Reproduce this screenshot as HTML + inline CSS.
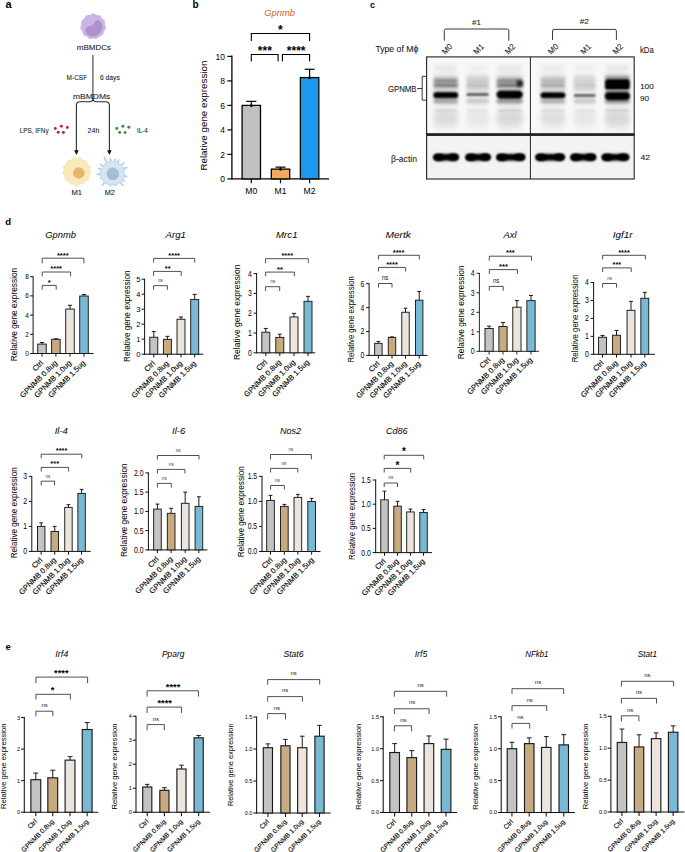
<!DOCTYPE html>
<html><head><meta charset="utf-8"><title>Figure</title>
<style>
html,body{margin:0;padding:0;background:#fff;}
body{width:685px;height:852px;overflow:hidden;}
svg{display:block;}
text{font-family:"Liberation Sans", sans-serif;}
</style></head>
<body>
<svg width="685" height="852" viewBox="0 0 685 852">
<rect x="0" y="0" width="685" height="852" fill="#fff"/>
<text x="5.60" y="8.40" font-size="11" text-anchor="start" font-weight="bold" >a</text>
<text x="192.40" y="7.70" font-size="10" text-anchor="start" font-weight="bold" >b</text>
<text x="370.00" y="8.30" font-size="9" text-anchor="start" font-weight="bold" >c</text>
<text x="5.30" y="224.70" font-size="9.5" text-anchor="start" font-weight="bold" >d</text>
<text x="5.60" y="650.00" font-size="9.5" text-anchor="start" font-weight="bold" >e</text>
<path d="M105.20,26.40 L105.43,27.05 L105.54,27.71 L105.49,28.36 L105.26,28.99 L104.90,29.56 L104.48,30.10 L104.07,30.61 L103.75,31.14 L103.52,31.71 L103.38,32.34 L103.27,33.00 L103.10,33.67 L102.83,34.28 L102.42,34.79 L101.88,35.18 L101.26,35.46 L100.61,35.68 L100.00,35.89 L99.45,36.17 L98.96,36.54 L98.50,37.00 L98.04,37.50 L97.54,37.96 L96.97,38.31 L96.34,38.51 L95.68,38.53 L95.00,38.42 L94.35,38.25 L93.71,38.11 L93.10,38.05 L92.49,38.11 L91.85,38.25 L91.20,38.42 L90.52,38.53 L89.86,38.51 L89.23,38.31 L88.66,37.96 L88.16,37.50 L87.70,37.00 L87.24,36.54 L86.75,36.17 L86.20,35.89 L85.59,35.68 L84.94,35.46 L84.32,35.18 L83.78,34.79 L83.37,34.28 L83.10,33.67 L82.93,33.00 L82.82,32.34 L82.68,31.71 L82.45,31.14 L82.13,30.61 L81.72,30.10 L81.30,29.56 L80.94,28.99 L80.71,28.36 L80.66,27.71 L80.77,27.05 L81.00,26.40 L81.26,25.78 L81.48,25.18 L81.59,24.58 L81.59,23.95 L81.52,23.30 L81.46,22.62 L81.48,21.94 L81.64,21.30 L81.96,20.72 L82.43,20.24 L82.97,19.82 L83.52,19.44 L84.02,19.05 L84.44,18.60 L84.77,18.07 L85.07,17.48 L85.38,16.87 L85.77,16.32 L86.27,15.88 L86.86,15.58 L87.51,15.44 L88.20,15.39 L88.87,15.37 L89.49,15.30 L90.08,15.13 L90.65,14.86 L91.22,14.52 L91.82,14.18 L92.45,13.94 L93.10,13.85 L93.75,13.94 L94.38,14.18 L94.98,14.52 L95.55,14.86 L96.12,15.13 L96.71,15.30 L97.33,15.37 L98.00,15.39 L98.69,15.44 L99.34,15.58 L99.93,15.88 L100.43,16.32 L100.82,16.87 L101.13,17.48 L101.43,18.07 L101.76,18.60 L102.18,19.05 L102.68,19.44 L103.23,19.82 L103.77,20.24 L104.24,20.72 L104.56,21.30 L104.72,21.94 L104.74,22.62 L104.68,23.30 L104.61,23.95 L104.61,24.58 L104.72,25.18 L104.94,25.78Z" fill="#cab6e6" stroke="#bea6dc" stroke-width="0.6"/>
<path d="M97.7,20.2 C100.5,20.6 102.4,23.0 102.4,26.6 C102.4,31.5 99.2,35.4 94.3,36.3 C90.0,37.0 86.3,35.0 85.3,31.6 C84.6,28.8 86.5,26.4 89.6,26.0 C91.9,25.8 93.4,25.2 93.7,23.3 C94.0,21.4 95.6,20.0 97.7,20.2 Z" fill="#ae92c9"/>
<text x="76.80" y="49.80" font-size="7.3" text-anchor="start" fill="#1a1a1a" textLength="34.10" lengthAdjust="spacingAndGlyphs" stroke="#1a1a1a" stroke-width="0.08" >mBMDCs</text>
<path d="M92.9,98.6 Q92.9,101.8 89.5,101.8 L80.0,101.8 Q76.4,101.8 76.4,105.6 L76.4,151" fill="none" stroke="#2a2a2a" stroke-width="1.1"/>
<path d="M92.9,54.9 L92.9,99.6" fill="none" stroke="#4a4a4a" stroke-width="1.2"/>
<path d="M92.9,98.6 Q92.9,101.8 96.3,101.8 L105.8,101.8 Q109.4,101.8 109.4,105.6 L109.4,151" fill="none" stroke="#2a2a2a" stroke-width="1.1"/>
<path d="M74.1,150.2 L78.7,150.2 L76.4,155.0 Z" fill="#111"/>
<path d="M107.1,150.2 L111.7,150.2 L109.4,155.0 Z" fill="#111"/>
<text x="66.60" y="80.40" font-size="6.6" text-anchor="start" fill="#1a1a1a" textLength="20.50" lengthAdjust="spacingAndGlyphs" stroke="#1a1a1a" stroke-width="0.08" >M-CSF</text>
<text x="99.90" y="80.40" font-size="6.6" text-anchor="start" fill="#1a1a1a" textLength="19.90" lengthAdjust="spacingAndGlyphs" stroke="#1a1a1a" stroke-width="0.08" >6 days</text>
<text x="73.00" y="99.10" font-size="7.5" text-anchor="start" fill="#1a1a1a" textLength="37.30" lengthAdjust="spacingAndGlyphs" stroke="#1a1a1a" stroke-width="0.08" >mBMDMs</text>
<text x="19.80" y="133.00" font-size="7.0" text-anchor="start" fill="#1a1a1a" textLength="28.80" lengthAdjust="spacingAndGlyphs" stroke="#1a1a1a" stroke-width="0.08" >LPS, IFNγ</text>
<text x="87.60" y="133.20" font-size="7.0" text-anchor="start" fill="#1a1a1a" textLength="11.70" lengthAdjust="spacingAndGlyphs" stroke="#1a1a1a" stroke-width="0.08" >24h</text>
<text x="136.90" y="133.20" font-size="7.0" text-anchor="start" fill="#1a1a1a" textLength="10.80" lengthAdjust="spacingAndGlyphs" stroke="#1a1a1a" stroke-width="0.08" >IL-4</text>
<circle cx="55.3" cy="128.5" r="1.45" fill="#b02a2e"/>
<circle cx="61.4" cy="126.3" r="1.45" fill="#b02a2e"/>
<circle cx="67.3" cy="127.5" r="1.45" fill="#b02a2e"/>
<circle cx="58.2" cy="132.2" r="1.45" fill="#b02a2e"/>
<circle cx="63.4" cy="132.5" r="1.45" fill="#b02a2e"/>
<circle cx="116.8" cy="128.5" r="1.45" fill="#2f8a3f"/>
<circle cx="122.9" cy="126.2" r="1.45" fill="#2f8a3f"/>
<circle cx="128.8" cy="127.3" r="1.45" fill="#2f8a3f"/>
<circle cx="119.7" cy="132.4" r="1.45" fill="#2f8a3f"/>
<circle cx="125.0" cy="132.6" r="1.45" fill="#2f8a3f"/>
<path d="M90.10,171.50 L90.46,172.22 L90.61,172.95 L90.46,173.66 L90.05,174.32 L89.50,174.90 L88.99,175.46 L88.66,176.05 L88.54,176.73 L88.57,177.50 L88.58,178.30 L88.42,179.05 L88.02,179.65 L87.39,180.08 L86.64,180.36 L85.90,180.60 L85.30,180.94 L84.85,181.44 L84.51,182.11 L84.16,182.83 L83.71,183.47 L83.11,183.88 L82.37,184.02 L81.58,183.95 L80.80,183.81 L80.09,183.79 L79.45,183.97 L78.84,184.37 L78.20,184.85 L77.52,185.25 L76.80,185.40 L76.08,185.25 L75.40,184.85 L74.76,184.37 L74.15,183.97 L73.51,183.79 L72.80,183.81 L72.02,183.95 L71.23,184.02 L70.49,183.88 L69.89,183.47 L69.44,182.83 L69.09,182.11 L68.75,181.44 L68.30,180.94 L67.70,180.60 L66.96,180.36 L66.21,180.08 L65.58,179.65 L65.18,179.05 L65.02,178.30 L65.03,177.50 L65.06,176.73 L64.94,176.05 L64.61,175.46 L64.10,174.90 L63.55,174.32 L63.14,173.66 L62.99,172.95 L63.14,172.22 L63.50,171.50 L63.90,170.82 L64.16,170.17 L64.19,169.50 L64.03,168.79 L63.80,168.02 L63.69,167.24 L63.82,166.52 L64.24,165.91 L64.87,165.42 L65.54,165.00 L66.12,164.56 L66.50,164.02 L66.72,163.34 L66.87,162.56 L67.10,161.80 L67.50,161.17 L68.11,160.77 L68.87,160.59 L69.67,160.53 L70.41,160.43 L71.03,160.18 L71.55,159.72 L72.04,159.11 L72.58,158.52 L73.21,158.09 L73.92,157.95 L74.68,158.09 L75.42,158.40 L76.13,158.68 L76.80,158.80 L77.47,158.68 L78.18,158.40 L78.92,158.09 L79.68,157.95 L80.39,158.09 L81.02,158.52 L81.56,159.11 L82.05,159.72 L82.57,160.18 L83.19,160.43 L83.93,160.53 L84.73,160.59 L85.49,160.77 L86.10,161.17 L86.50,161.80 L86.73,162.56 L86.88,163.34 L87.10,164.02 L87.48,164.56 L88.06,165.00 L88.73,165.42 L89.36,165.91 L89.78,166.52 L89.91,167.24 L89.80,168.02 L89.57,168.79 L89.41,169.50 L89.44,170.17 L89.70,170.82Z" fill="#fbe9b8" stroke="#e9d39a" stroke-width="0.6"/>
<circle cx="78.9" cy="173.0" r="5.8" fill="#e5b572"/>
<path d="M100.95,170.35 L97.93,168.22 L101.62,168.40 A11.8,11.8 0 0 1 102.29,167.12 L99.86,164.09 L103.49,165.46 A11.8,11.8 0 0 1 106.15,163.19 L103.82,156.36 L107.98,162.26 A11.8,11.8 0 0 1 109.75,161.70 L110.23,157.75 L111.78,161.42 A11.8,11.8 0 0 1 113.84,161.49 L115.52,158.53 L115.85,161.92 A11.8,11.8 0 0 1 116.63,162.18 L119.19,159.27 L118.48,163.09 A11.8,11.8 0 0 1 120.45,164.57 L124.44,162.36 L121.82,166.10 A11.8,11.8 0 0 1 123.01,168.03 L127.43,167.43 L123.74,169.95 A11.8,11.8 0 0 1 124.09,174.84 L127.41,176.66 L123.62,176.85 A11.8,11.8 0 0 1 122.82,178.74 L124.98,181.37 L121.70,180.46 A11.8,11.8 0 0 1 120.89,181.40 L123.49,185.95 L119.34,182.75 A11.8,11.8 0 0 1 116.44,184.29 L115.92,186.34 L114.45,184.82 A11.8,11.8 0 0 1 111.37,184.96 L110.04,186.59 L109.35,184.60 A11.8,11.8 0 0 1 105.63,182.87 L101.99,185.61 L104.06,181.54 A11.8,11.8 0 0 1 101.98,178.74 L99.88,178.51 L101.18,176.85 A11.8,11.8 0 0 1 100.78,175.25 L96.46,174.59 L100.60,173.20 A11.8,11.8 0 0 1 100.95,170.35 Z" fill="#d6e6f1" stroke="#a9c8dd" stroke-width="0.8" stroke-linejoin="round"/>
<circle cx="112.8" cy="173.9" r="6.0" fill="#a1bfd7" stroke="#93b3cd" stroke-width="0.5"/>
<text x="76.80" y="195.30" font-size="6.9" text-anchor="middle" fill="#1a1a1a" textLength="10.50" lengthAdjust="spacingAndGlyphs" stroke="#1a1a1a" stroke-width="0.08" >M1</text>
<text x="109.80" y="195.30" font-size="6.9" text-anchor="middle" fill="#1a1a1a" textLength="10.20" lengthAdjust="spacingAndGlyphs" stroke="#1a1a1a" stroke-width="0.08" >M2</text>
<text x="279.60" y="15.60" font-size="9.9" text-anchor="middle" font-style="italic" fill="#c8682c" textLength="30.90" lengthAdjust="spacingAndGlyphs" >Gpnmb</text>
<line x1="231.90" y1="55.50" x2="231.90" y2="179.60" stroke="#000" stroke-width="1.3" />
<line x1="231.90" y1="178.90" x2="329.00" y2="178.90" stroke="#000" stroke-width="1.3" />
<line x1="227.40" y1="178.90" x2="231.90" y2="178.90" stroke="#000" stroke-width="1.2" />
<text x="225.00" y="182.20" font-size="9.2" text-anchor="end" textLength="4.71" lengthAdjust="spacingAndGlyphs" >0</text>
<line x1="227.40" y1="154.40" x2="231.90" y2="154.40" stroke="#000" stroke-width="1.2" />
<text x="225.00" y="157.70" font-size="9.2" text-anchor="end" textLength="4.71" lengthAdjust="spacingAndGlyphs" >2</text>
<line x1="227.40" y1="129.90" x2="231.90" y2="129.90" stroke="#000" stroke-width="1.2" />
<text x="225.00" y="133.20" font-size="9.2" text-anchor="end" textLength="4.71" lengthAdjust="spacingAndGlyphs" >4</text>
<line x1="227.40" y1="105.40" x2="231.90" y2="105.40" stroke="#000" stroke-width="1.2" />
<text x="225.00" y="108.70" font-size="9.2" text-anchor="end" textLength="4.71" lengthAdjust="spacingAndGlyphs" >6</text>
<line x1="227.40" y1="80.90" x2="231.90" y2="80.90" stroke="#000" stroke-width="1.2" />
<text x="225.00" y="84.20" font-size="9.2" text-anchor="end" textLength="4.71" lengthAdjust="spacingAndGlyphs" >8</text>
<line x1="227.40" y1="56.40" x2="231.90" y2="56.40" stroke="#000" stroke-width="1.2" />
<text x="225.00" y="59.70" font-size="9.2" text-anchor="end" textLength="9.41" lengthAdjust="spacingAndGlyphs" >10</text>
<rect x="242.10" y="105.40" width="18.4" height="73.50" fill="#c0c0c0" stroke="#000" stroke-width="1.3"/>
<line x1="251.30" y1="101.36" x2="251.30" y2="105.40" stroke="#000" stroke-width="1.2" />
<line x1="246.30" y1="101.36" x2="256.30" y2="101.36" stroke="#000" stroke-width="1.2" />
<line x1="251.30" y1="178.90" x2="251.30" y2="183.20" stroke="#000" stroke-width="1.2" />
<circle cx="251.30" cy="105.70" r="1.3" fill="#000"/>
<rect x="271.30" y="169.10" width="18.4" height="9.80" fill="#f5a95d" stroke="#000" stroke-width="1.3"/>
<line x1="280.50" y1="167.14" x2="280.50" y2="169.10" stroke="#000" stroke-width="1.2" />
<line x1="275.50" y1="167.14" x2="285.50" y2="167.14" stroke="#000" stroke-width="1.2" />
<line x1="280.50" y1="178.90" x2="280.50" y2="183.20" stroke="#000" stroke-width="1.2" />
<circle cx="280.50" cy="169.40" r="1.3" fill="#000"/>
<rect x="300.40" y="77.59" width="18.4" height="101.31" fill="#1a9bf0" stroke="#000" stroke-width="1.3"/>
<line x1="309.60" y1="69.26" x2="309.60" y2="77.59" stroke="#000" stroke-width="1.2" />
<line x1="304.60" y1="69.26" x2="314.60" y2="69.26" stroke="#000" stroke-width="1.2" />
<line x1="309.60" y1="178.90" x2="309.60" y2="183.20" stroke="#000" stroke-width="1.2" />
<circle cx="309.60" cy="77.89" r="1.3" fill="#000"/>
<text x="251.30" y="194.40" font-size="8.6" text-anchor="middle" >M0</text>
<text x="280.50" y="194.40" font-size="8.6" text-anchor="middle" >M1</text>
<text x="309.60" y="194.40" font-size="8.6" text-anchor="middle" >M2</text>
<text x="207.00" y="115.60" font-size="9.8" text-anchor="middle" transform="rotate(-90 207.0 115.6)">Relative gene expression</text>
<path d="M251.30,40.90 L251.30,33.50 L309.60,33.50 L309.60,40.90" fill="none" stroke="#000" stroke-width="1.1"/>
<path d="M251.30,61.60 L251.30,54.50 L278.10,54.50 L278.10,61.60" fill="none" stroke="#000" stroke-width="1.1"/>
<path d="M282.40,61.60 L282.40,54.50 L309.60,54.50 L309.60,61.60" fill="none" stroke="#000" stroke-width="1.1"/>
<text x="280.40" y="33.60" font-size="12" text-anchor="middle" font-weight="bold" >*</text>
<text x="264.85" y="54.50" font-size="12" text-anchor="middle" font-weight="bold" >***</text>
<text x="296.20" y="54.50" font-size="12" text-anchor="middle" font-weight="bold" >****</text>
<defs><filter id="b1" x="-20%" y="-100%" width="140%" height="300%"><feGaussianBlur stdDeviation="0.85"/></filter><filter id="b2" x="-20%" y="-100%" width="140%" height="300%"><feGaussianBlur stdDeviation="1.6"/></filter><filter id="b3" x="-20%" y="-100%" width="140%" height="300%"><feGaussianBlur stdDeviation="2.6"/></filter></defs>
<text x="476.40" y="24.60" font-size="7.8" text-anchor="middle" fill="#1a1a1a" textLength="8.80" lengthAdjust="spacingAndGlyphs" stroke="#1a1a1a" stroke-width="0.08" >#1</text>
<text x="584.20" y="24.40" font-size="7.8" text-anchor="middle" fill="#1a1a1a" textLength="9.00" lengthAdjust="spacingAndGlyphs" stroke="#1a1a1a" stroke-width="0.08" >#2</text>
<path d="M444.3,40.7 L444.3,30.5 Q444.3,29 445.8,29 L507.3,29 Q508.8,29 508.8,30.5 L508.8,40.7" fill="none" stroke="#222" stroke-width="0.9"/>
<path d="M552.5,39.9 L552.5,30.9 Q552.5,29.4 554,29.4 L614.9,29.4 Q616.4,29.4 616.4,30.9 L616.4,39.9" fill="none" stroke="#222" stroke-width="0.9"/>
<text x="375.40" y="51.60" font-size="8.7" text-anchor="start" fill="#1a1a1a" textLength="42.90" lengthAdjust="spacingAndGlyphs" stroke="#1a1a1a" stroke-width="0.08" >Type of Mϕ</text>
<text x="445.20" y="54.90" font-size="8.3" text-anchor="start" fill="#1a1a1a" textLength="11.00" lengthAdjust="spacingAndGlyphs" stroke="#1a1a1a" stroke-width="0.08" transform="rotate(-45 445.2 54.9)">M0</text>
<text x="476.80" y="54.90" font-size="8.3" text-anchor="start" fill="#1a1a1a" textLength="11.00" lengthAdjust="spacingAndGlyphs" stroke="#1a1a1a" stroke-width="0.08" transform="rotate(-45 476.8 54.9)">M1</text>
<text x="508.20" y="54.90" font-size="8.3" text-anchor="start" fill="#1a1a1a" textLength="11.00" lengthAdjust="spacingAndGlyphs" stroke="#1a1a1a" stroke-width="0.08" transform="rotate(-45 508.2 54.9)">M2</text>
<text x="551.30" y="54.90" font-size="8.3" text-anchor="start" fill="#1a1a1a" textLength="11.00" lengthAdjust="spacingAndGlyphs" stroke="#1a1a1a" stroke-width="0.08" transform="rotate(-45 551.3 54.9)">M0</text>
<text x="583.80" y="54.90" font-size="8.3" text-anchor="start" fill="#1a1a1a" textLength="11.00" lengthAdjust="spacingAndGlyphs" stroke="#1a1a1a" stroke-width="0.08" transform="rotate(-45 583.8 54.9)">M1</text>
<text x="615.90" y="54.90" font-size="8.3" text-anchor="start" fill="#1a1a1a" textLength="11.00" lengthAdjust="spacingAndGlyphs" stroke="#1a1a1a" stroke-width="0.08" transform="rotate(-45 615.9 54.9)">M2</text>
<text x="639.90" y="53.30" font-size="8.2" text-anchor="start" fill="#1a1a1a" textLength="13.90" lengthAdjust="spacingAndGlyphs" stroke="#1a1a1a" stroke-width="0.08" >kDa</text>
<text x="639.90" y="89.10" font-size="7.8" text-anchor="start" fill="#1a1a1a" textLength="13.90" lengthAdjust="spacingAndGlyphs" stroke="#1a1a1a" stroke-width="0.08" >100</text>
<text x="639.90" y="100.60" font-size="7.8" text-anchor="start" fill="#1a1a1a" textLength="9.20" lengthAdjust="spacingAndGlyphs" stroke="#1a1a1a" stroke-width="0.08" >90</text>
<text x="640.40" y="159.90" font-size="7.8" text-anchor="start" fill="#1a1a1a" textLength="9.60" lengthAdjust="spacingAndGlyphs" stroke="#1a1a1a" stroke-width="0.08" >42</text>
<text x="387.90" y="91.80" font-size="8.2" text-anchor="start" fill="#1a1a1a" textLength="28.60" lengthAdjust="spacingAndGlyphs" stroke="#1a1a1a" stroke-width="0.08" >GPNMB</text>
<text x="391.00" y="161.80" font-size="8.2" text-anchor="start" fill="#1a1a1a" textLength="26.00" lengthAdjust="spacingAndGlyphs" stroke="#1a1a1a" stroke-width="0.08" >β-actin</text>
<path d="M426.4,76.3 L422.2,76.3 L422.2,100.2 L426.4,100.2 M417.2,88.5 L422.2,88.5" fill="none" stroke="#222" stroke-width="0.9"/>
<rect x="426.6" y="56.9" width="207.3" height="77" fill="#f8f8f8"/>
<rect x="426.6" y="135.6" width="207.3" height="43" fill="#f3f3f3"/>
<rect x="434.50" y="64" width="22.50" height="66" fill="#eaeaea" opacity="0.8" filter="url(#b3)"/>
<rect x="435.00" y="66.70" width="21.50" height="1.60" rx="0.80" fill="#dfdfdf" opacity="0.6" filter="url(#b1)"/>
<rect x="433.50" y="98.50" width="24.50" height="5.00" rx="2.50" fill="#9a9a9a" opacity="0.9" filter="url(#b2)"/>
<rect x="434.50" y="109.70" width="22.50" height="2.20" rx="1.10" fill="#c5c5c5" opacity="0.8" filter="url(#b1)"/>
<rect x="433.50" y="111.00" width="24.50" height="14.00" rx="7.00" fill="#dbdbdb" opacity="0.9" filter="url(#b3)"/>
<rect x="467.30" y="64" width="20.70" height="66" fill="#f0f0f0" opacity="0.8" filter="url(#b3)"/>
<rect x="467.80" y="66.70" width="19.70" height="1.60" rx="0.80" fill="#e8e8e8" opacity="0.6" filter="url(#b1)"/>
<rect x="466.30" y="98.50" width="22.70" height="5.00" rx="2.50" fill="#c5c5c5" opacity="0.9" filter="url(#b2)"/>
<rect x="467.30" y="109.70" width="20.70" height="2.20" rx="1.10" fill="#d9d9d9" opacity="0.8" filter="url(#b1)"/>
<rect x="466.30" y="111.00" width="22.70" height="14.00" rx="7.00" fill="#e6e6e6" opacity="0.9" filter="url(#b3)"/>
<rect x="497.60" y="64" width="24.10" height="66" fill="#e8e8e8" opacity="0.8" filter="url(#b3)"/>
<rect x="498.10" y="66.70" width="23.10" height="1.60" rx="0.80" fill="#dcdcdc" opacity="0.6" filter="url(#b1)"/>
<rect x="496.60" y="98.50" width="26.10" height="5.00" rx="2.50" fill="#8c8c8c" opacity="0.9" filter="url(#b2)"/>
<rect x="497.60" y="109.70" width="24.10" height="2.20" rx="1.10" fill="#bebebe" opacity="0.8" filter="url(#b1)"/>
<rect x="496.60" y="111.00" width="26.10" height="14.00" rx="7.00" fill="#d7d7d7" opacity="0.9" filter="url(#b3)"/>
<rect x="541.60" y="64" width="22.70" height="66" fill="#ececec" opacity="0.8" filter="url(#b3)"/>
<rect x="542.10" y="66.70" width="21.70" height="1.60" rx="0.80" fill="#e2e2e2" opacity="0.6" filter="url(#b1)"/>
<rect x="540.60" y="98.50" width="24.70" height="5.00" rx="2.50" fill="#a8a8a8" opacity="0.9" filter="url(#b2)"/>
<rect x="541.60" y="109.70" width="22.70" height="2.20" rx="1.10" fill="#cccccc" opacity="0.8" filter="url(#b1)"/>
<rect x="540.60" y="111.00" width="24.70" height="14.00" rx="7.00" fill="#dedede" opacity="0.9" filter="url(#b3)"/>
<rect x="574.70" y="64" width="20.00" height="66" fill="#f0f0f0" opacity="0.8" filter="url(#b3)"/>
<rect x="575.20" y="66.70" width="19.00" height="1.60" rx="0.80" fill="#e8e8e8" opacity="0.6" filter="url(#b1)"/>
<rect x="573.70" y="98.50" width="22.00" height="5.00" rx="2.50" fill="#c5c5c5" opacity="0.9" filter="url(#b2)"/>
<rect x="574.70" y="109.70" width="20.00" height="2.20" rx="1.10" fill="#d9d9d9" opacity="0.8" filter="url(#b1)"/>
<rect x="573.70" y="111.00" width="22.00" height="14.00" rx="7.00" fill="#e6e6e6" opacity="0.9" filter="url(#b3)"/>
<rect x="605.90" y="64" width="23.00" height="66" fill="#e8e8e8" opacity="0.8" filter="url(#b3)"/>
<rect x="606.40" y="66.70" width="22.00" height="1.60" rx="0.80" fill="#dcdcdc" opacity="0.6" filter="url(#b1)"/>
<rect x="604.90" y="98.50" width="25.00" height="5.00" rx="2.50" fill="#8c8c8c" opacity="0.9" filter="url(#b2)"/>
<rect x="605.90" y="109.70" width="23.00" height="2.20" rx="1.10" fill="#bebebe" opacity="0.8" filter="url(#b1)"/>
<rect x="604.90" y="111.00" width="25.00" height="14.00" rx="7.00" fill="#d7d7d7" opacity="0.9" filter="url(#b3)"/>
<rect x="433.50" y="75.50" width="24.50" height="4.00" rx="2.00" fill="#d8d8d8" opacity="1.0" filter="url(#b2)"/>
<rect x="433.50" y="78.50" width="24.50" height="5.00" rx="2.50" fill="#8c8c8c" opacity="1.0" filter="url(#b2)"/>
<rect x="433.50" y="83.00" width="24.50" height="5.00" rx="2.50" fill="#7e7e7e" opacity="1.0" filter="url(#b2)"/>
<rect x="433.50" y="88.00" width="24.50" height="3.00" rx="1.50" fill="#c8c8c8" opacity="0.8" filter="url(#b2)"/>
<rect x="466.30" y="75.50" width="22.70" height="4.00" rx="2.00" fill="#d8d8d8" opacity="1.0" filter="url(#b2)"/>
<rect x="466.30" y="78.50" width="22.70" height="5.00" rx="2.50" fill="#c8c8c8" opacity="1.0" filter="url(#b2)"/>
<rect x="466.30" y="83.00" width="22.70" height="5.00" rx="2.50" fill="#bdbdbd" opacity="1.0" filter="url(#b2)"/>
<rect x="466.30" y="88.00" width="22.70" height="3.00" rx="1.50" fill="#c8c8c8" opacity="0.8" filter="url(#b2)"/>
<rect x="496.60" y="75.50" width="26.10" height="4.00" rx="2.00" fill="#d8d8d8" opacity="1.0" filter="url(#b2)"/>
<rect x="496.60" y="78.50" width="26.10" height="5.00" rx="2.50" fill="#8a8a8a" opacity="1.0" filter="url(#b2)"/>
<rect x="496.60" y="83.00" width="26.10" height="5.00" rx="2.50" fill="#767676" opacity="1.0" filter="url(#b2)"/>
<rect x="496.60" y="88.00" width="26.10" height="3.00" rx="1.50" fill="#c8c8c8" opacity="0.8" filter="url(#b2)"/>
<rect x="540.60" y="75.50" width="24.70" height="4.00" rx="2.00" fill="#d8d8d8" opacity="1.0" filter="url(#b2)"/>
<rect x="540.60" y="78.50" width="24.70" height="5.00" rx="2.50" fill="#b4b4b4" opacity="1.0" filter="url(#b2)"/>
<rect x="540.60" y="83.00" width="24.70" height="5.00" rx="2.50" fill="#a8a8a8" opacity="1.0" filter="url(#b2)"/>
<rect x="540.60" y="88.00" width="24.70" height="3.00" rx="1.50" fill="#c8c8c8" opacity="0.8" filter="url(#b2)"/>
<rect x="573.70" y="75.50" width="22.00" height="4.00" rx="2.00" fill="#d8d8d8" opacity="1.0" filter="url(#b2)"/>
<rect x="573.70" y="78.50" width="22.00" height="5.00" rx="2.50" fill="#d2d2d2" opacity="1.0" filter="url(#b2)"/>
<rect x="573.70" y="83.00" width="22.00" height="5.00" rx="2.50" fill="#c6c6c6" opacity="1.0" filter="url(#b2)"/>
<rect x="573.70" y="88.00" width="22.00" height="3.00" rx="1.50" fill="#c8c8c8" opacity="0.8" filter="url(#b2)"/>
<rect x="516.50" y="80.25" width="6.50" height="6.50" rx="3.25" fill="#1a1a1a" opacity="1.0" filter="url(#b2)"/>
<rect x="604.90" y="75.50" width="25.00" height="4.00" rx="2.00" fill="#9a9a9a" opacity="1.0" filter="url(#b2)"/>
<rect x="604.90" y="79.10" width="25.00" height="11.00" rx="3.00" fill="#000" opacity="1.0" filter="url(#b1)"/>
<rect x="605.50" y="90.00" width="24.00" height="2.00" rx="1.00" fill="#8a8a8a" opacity="1.0" filter="url(#b1)"/>
<rect x="433.30" y="92.05" width="24.90" height="6.30" rx="3.15" fill="#000" opacity="1.0" filter="url(#b1)"/>
<rect x="466.30" y="92.90" width="22.70" height="3.20" rx="1.60" fill="#5a5a5a" opacity="1.0" filter="url(#b1)"/>
<rect x="496.40" y="90.45" width="26.50" height="8.30" rx="4.15" fill="#000" opacity="1.0" filter="url(#b1)"/>
<rect x="540.40" y="92.25" width="25.10" height="6.10" rx="3.05" fill="#000" opacity="1.0" filter="url(#b1)"/>
<rect x="573.70" y="93.90" width="22.00" height="3.00" rx="1.50" fill="#5e5e5e" opacity="1.0" filter="url(#b1)"/>
<rect x="604.70" y="92.00" width="25.40" height="8.20" rx="4.10" fill="#000" opacity="1.0" filter="url(#b1)"/>
<rect x="433.50" y="152.70" width="25.10" height="9.00" rx="4.50" fill="#bdbdbd" opacity="0.5" filter="url(#b2)"/>
<rect x="433.50" y="154.00" width="25.10" height="6.40" rx="3.20" fill="#000" opacity="1.0" filter="url(#b1)"/>
<ellipse cx="439.00" cy="157.3" rx="5.5" ry="3.65" fill="#000" filter="url(#b1)"/>
<ellipse cx="453.10" cy="157.1" rx="5.5" ry="3.6" fill="#000" filter="url(#b1)"/>
<rect x="465.60" y="152.70" width="24.90" height="9.00" rx="4.50" fill="#bdbdbd" opacity="0.5" filter="url(#b2)"/>
<rect x="465.60" y="154.00" width="24.90" height="6.40" rx="3.20" fill="#000" opacity="1.0" filter="url(#b1)"/>
<ellipse cx="471.10" cy="157.3" rx="5.5" ry="3.65" fill="#000" filter="url(#b1)"/>
<ellipse cx="485.00" cy="157.1" rx="5.5" ry="3.6" fill="#000" filter="url(#b1)"/>
<rect x="496.60" y="152.70" width="28.40" height="9.00" rx="4.50" fill="#bdbdbd" opacity="0.5" filter="url(#b2)"/>
<rect x="496.60" y="154.00" width="28.40" height="6.40" rx="3.20" fill="#000" opacity="1.0" filter="url(#b1)"/>
<ellipse cx="502.10" cy="157.3" rx="5.5" ry="3.65" fill="#000" filter="url(#b1)"/>
<ellipse cx="519.50" cy="157.1" rx="5.5" ry="3.6" fill="#000" filter="url(#b1)"/>
<rect x="535.70" y="152.70" width="28.90" height="9.00" rx="4.50" fill="#bdbdbd" opacity="0.5" filter="url(#b2)"/>
<rect x="535.70" y="154.00" width="28.90" height="6.40" rx="3.20" fill="#000" opacity="1.0" filter="url(#b1)"/>
<ellipse cx="541.20" cy="157.3" rx="5.5" ry="3.65" fill="#000" filter="url(#b1)"/>
<ellipse cx="559.10" cy="157.1" rx="5.5" ry="3.6" fill="#000" filter="url(#b1)"/>
<rect x="570.60" y="152.70" width="25.30" height="9.00" rx="4.50" fill="#bdbdbd" opacity="0.5" filter="url(#b2)"/>
<rect x="570.60" y="154.00" width="25.30" height="6.40" rx="3.20" fill="#000" opacity="1.0" filter="url(#b1)"/>
<ellipse cx="576.10" cy="157.3" rx="5.5" ry="3.65" fill="#000" filter="url(#b1)"/>
<ellipse cx="590.40" cy="157.1" rx="5.5" ry="3.6" fill="#000" filter="url(#b1)"/>
<rect x="601.90" y="152.70" width="27.00" height="9.00" rx="4.50" fill="#bdbdbd" opacity="0.5" filter="url(#b2)"/>
<rect x="601.90" y="154.00" width="27.00" height="6.40" rx="3.20" fill="#000" opacity="1.0" filter="url(#b1)"/>
<ellipse cx="607.40" cy="157.3" rx="5.5" ry="3.65" fill="#000" filter="url(#b1)"/>
<ellipse cx="623.40" cy="157.1" rx="5.5" ry="3.6" fill="#000" filter="url(#b1)"/>
<rect x="426.6" y="56.9" width="207.6" height="77.0" fill="none" stroke="#222" stroke-width="1.1"/>
<rect x="426.6" y="135.3" width="207.6" height="43.7" fill="none" stroke="#222" stroke-width="1.1"/>
<rect x="426.1" y="133.4" width="208.6" height="2.4" fill="#262626"/>
<line x1="530.40" y1="56.90" x2="530.40" y2="179.00" stroke="#222" stroke-width="1.0" />
<text x="60.60" y="237.70" font-size="9.9" text-anchor="middle" font-style="italic" textLength="30.60" lengthAdjust="spacingAndGlyphs" >Gpnmb</text>
<text x="17.00" y="314.50" font-size="8.3" text-anchor="middle" textLength="93.50" lengthAdjust="spacingAndGlyphs" transform="rotate(-90 17.00 314.50)">Relative gene expression</text>
<line x1="33.10" y1="276.20" x2="33.10" y2="354.00" stroke="#111" stroke-width="1.0" />
<line x1="32.60" y1="353.50" x2="93.40" y2="353.50" stroke="#111" stroke-width="1.0" />
<line x1="30.10" y1="353.50" x2="33.10" y2="353.50" stroke="#111" stroke-width="1.0" />
<text x="28.90" y="356.02" font-size="7.0" text-anchor="end" textLength="3.58" lengthAdjust="spacingAndGlyphs" >0</text>
<line x1="30.10" y1="334.30" x2="33.10" y2="334.30" stroke="#111" stroke-width="1.0" />
<text x="28.90" y="336.82" font-size="7.0" text-anchor="end" textLength="3.58" lengthAdjust="spacingAndGlyphs" >2</text>
<line x1="30.10" y1="315.10" x2="33.10" y2="315.10" stroke="#111" stroke-width="1.0" />
<text x="28.90" y="317.62" font-size="7.0" text-anchor="end" textLength="3.58" lengthAdjust="spacingAndGlyphs" >4</text>
<line x1="30.10" y1="295.90" x2="33.10" y2="295.90" stroke="#111" stroke-width="1.0" />
<text x="28.90" y="298.42" font-size="7.0" text-anchor="end" textLength="3.58" lengthAdjust="spacingAndGlyphs" >6</text>
<line x1="30.10" y1="276.70" x2="33.10" y2="276.70" stroke="#111" stroke-width="1.0" />
<text x="28.90" y="279.22" font-size="7.0" text-anchor="end" textLength="3.58" lengthAdjust="spacingAndGlyphs" >8</text>
<rect x="37.73" y="344.09" width="8.55" height="9.41" fill="#c3c3c3" stroke="#1a1a1a" stroke-width="0.95"/>
<line x1="42.00" y1="342.56" x2="42.00" y2="344.09" stroke="#1a1a1a" stroke-width="1.0" />
<line x1="39.86" y1="342.56" x2="44.14" y2="342.56" stroke="#1a1a1a" stroke-width="1.0" />
<line x1="42.00" y1="353.50" x2="42.00" y2="356.70" stroke="#111" stroke-width="1.0" />
<text x="43.80" y="363.50" font-size="7.6" text-anchor="end" stroke="#000" stroke-width="0.12" transform="rotate(-45 43.80 363.50)">Ctrl</text>
<rect x="51.62" y="339.29" width="8.55" height="14.21" fill="#c7aa7f" stroke="#1a1a1a" stroke-width="0.95"/>
<line x1="55.90" y1="338.81" x2="55.90" y2="339.29" stroke="#1a1a1a" stroke-width="1.0" />
<line x1="53.76" y1="338.81" x2="58.04" y2="338.81" stroke="#1a1a1a" stroke-width="1.0" />
<line x1="55.90" y1="353.50" x2="55.90" y2="356.70" stroke="#111" stroke-width="1.0" />
<text x="57.70" y="363.50" font-size="7.6" text-anchor="end" stroke="#000" stroke-width="0.12" transform="rotate(-45 57.70 363.50)">GPNMB 0.8ug</text>
<rect x="65.72" y="309.05" width="8.55" height="44.45" fill="#ebe5dd" stroke="#1a1a1a" stroke-width="0.95"/>
<line x1="70.00" y1="305.31" x2="70.00" y2="309.05" stroke="#1a1a1a" stroke-width="1.0" />
<line x1="67.86" y1="305.31" x2="72.14" y2="305.31" stroke="#1a1a1a" stroke-width="1.0" />
<line x1="70.00" y1="353.50" x2="70.00" y2="356.70" stroke="#111" stroke-width="1.0" />
<text x="71.80" y="363.50" font-size="7.6" text-anchor="end" stroke="#000" stroke-width="0.12" transform="rotate(-45 71.80 363.50)">GPNMB 1.0ug</text>
<rect x="79.72" y="296.00" width="8.55" height="57.50" fill="#79b9d3" stroke="#1a1a1a" stroke-width="0.95"/>
<line x1="84.00" y1="294.46" x2="84.00" y2="296.00" stroke="#1a1a1a" stroke-width="1.0" />
<line x1="81.86" y1="294.46" x2="86.14" y2="294.46" stroke="#1a1a1a" stroke-width="1.0" />
<line x1="84.00" y1="353.50" x2="84.00" y2="356.70" stroke="#111" stroke-width="1.0" />
<text x="85.80" y="363.50" font-size="7.6" text-anchor="end" stroke="#000" stroke-width="0.12" transform="rotate(-45 85.80 363.50)">GPNMB 1.5ug</text>
<path d="M42.20,263.30 L42.20,258.20 L83.90,258.20 L83.90,263.30" fill="none" stroke="#3c3c3c" stroke-width="0.9"/>
<text x="62.80" y="257.88" font-size="7.5" text-anchor="middle" font-weight="bold" >****</text>
<path d="M42.20,276.40 L42.20,272.00 L70.60,272.00 L70.60,276.40" fill="none" stroke="#3c3c3c" stroke-width="0.9"/>
<text x="56.20" y="271.48" font-size="7.5" text-anchor="middle" font-weight="bold" >****</text>
<path d="M42.20,289.70 L42.20,285.40 L56.20,285.40 L56.20,289.70" fill="none" stroke="#3c3c3c" stroke-width="0.9"/>
<text x="49.30" y="284.57" font-size="7.5" text-anchor="middle" font-weight="bold" >*</text>
<text x="175.70" y="238.20" font-size="9.9" text-anchor="middle" font-style="italic" textLength="20.40" lengthAdjust="spacingAndGlyphs" >Arg1</text>
<text x="130.00" y="316.20" font-size="8.3" text-anchor="middle" textLength="91.60" lengthAdjust="spacingAndGlyphs" transform="rotate(-90 130.00 316.20)">Relative gene expression</text>
<line x1="144.60" y1="278.70" x2="144.60" y2="354.70" stroke="#111" stroke-width="1.0" />
<line x1="144.10" y1="354.20" x2="203.40" y2="354.20" stroke="#111" stroke-width="1.0" />
<line x1="141.60" y1="354.20" x2="144.60" y2="354.20" stroke="#111" stroke-width="1.0" />
<text x="140.40" y="357.08" font-size="8.0" text-anchor="end" textLength="4.23" lengthAdjust="spacingAndGlyphs" >0</text>
<line x1="141.60" y1="339.20" x2="144.60" y2="339.20" stroke="#111" stroke-width="1.0" />
<text x="140.40" y="342.08" font-size="8.0" text-anchor="end" textLength="4.23" lengthAdjust="spacingAndGlyphs" >1</text>
<line x1="141.60" y1="324.20" x2="144.60" y2="324.20" stroke="#111" stroke-width="1.0" />
<text x="140.40" y="327.08" font-size="8.0" text-anchor="end" textLength="4.23" lengthAdjust="spacingAndGlyphs" >2</text>
<line x1="141.60" y1="309.20" x2="144.60" y2="309.20" stroke="#111" stroke-width="1.0" />
<text x="140.40" y="312.08" font-size="8.0" text-anchor="end" textLength="4.23" lengthAdjust="spacingAndGlyphs" >3</text>
<line x1="141.60" y1="294.20" x2="144.60" y2="294.20" stroke="#111" stroke-width="1.0" />
<text x="140.40" y="297.08" font-size="8.0" text-anchor="end" textLength="4.23" lengthAdjust="spacingAndGlyphs" >4</text>
<line x1="141.60" y1="279.20" x2="144.60" y2="279.20" stroke="#111" stroke-width="1.0" />
<text x="140.40" y="282.08" font-size="8.0" text-anchor="end" textLength="4.23" lengthAdjust="spacingAndGlyphs" >5</text>
<rect x="149.80" y="337.25" width="8.00" height="16.95" fill="#c3c3c3" stroke="#1a1a1a" stroke-width="0.95"/>
<line x1="153.80" y1="331.55" x2="153.80" y2="337.25" stroke="#1a1a1a" stroke-width="1.0" />
<line x1="151.80" y1="331.55" x2="155.80" y2="331.55" stroke="#1a1a1a" stroke-width="1.0" />
<line x1="153.80" y1="354.20" x2="153.80" y2="357.40" stroke="#111" stroke-width="1.0" />
<text x="155.60" y="363.90" font-size="7.6" text-anchor="end" stroke="#000" stroke-width="0.12" transform="rotate(-45 155.60 363.90)">Ctrl</text>
<rect x="163.40" y="339.35" width="8.00" height="14.85" fill="#c7aa7f" stroke="#1a1a1a" stroke-width="0.95"/>
<line x1="167.40" y1="336.35" x2="167.40" y2="339.35" stroke="#1a1a1a" stroke-width="1.0" />
<line x1="165.40" y1="336.35" x2="169.40" y2="336.35" stroke="#1a1a1a" stroke-width="1.0" />
<line x1="167.40" y1="354.20" x2="167.40" y2="357.40" stroke="#111" stroke-width="1.0" />
<text x="169.20" y="363.90" font-size="7.6" text-anchor="end" stroke="#000" stroke-width="0.12" transform="rotate(-45 169.20 363.90)">GPNMB 0.8ug</text>
<rect x="177.00" y="319.25" width="8.00" height="34.95" fill="#ebe5dd" stroke="#1a1a1a" stroke-width="0.95"/>
<line x1="181.00" y1="317.00" x2="181.00" y2="319.25" stroke="#1a1a1a" stroke-width="1.0" />
<line x1="179.00" y1="317.00" x2="183.00" y2="317.00" stroke="#1a1a1a" stroke-width="1.0" />
<line x1="181.00" y1="354.20" x2="181.00" y2="357.40" stroke="#111" stroke-width="1.0" />
<text x="182.80" y="363.90" font-size="7.6" text-anchor="end" stroke="#000" stroke-width="0.12" transform="rotate(-45 182.80 363.90)">GPNMB 1.0ug</text>
<rect x="190.70" y="299.45" width="8.00" height="54.75" fill="#79b9d3" stroke="#1a1a1a" stroke-width="0.95"/>
<line x1="194.70" y1="294.35" x2="194.70" y2="299.45" stroke="#1a1a1a" stroke-width="1.0" />
<line x1="192.70" y1="294.35" x2="196.70" y2="294.35" stroke="#1a1a1a" stroke-width="1.0" />
<line x1="194.70" y1="354.20" x2="194.70" y2="357.40" stroke="#111" stroke-width="1.0" />
<text x="196.50" y="363.90" font-size="7.6" text-anchor="end" stroke="#000" stroke-width="0.12" transform="rotate(-45 196.50 363.90)">GPNMB 1.5ug</text>
<path d="M153.60,262.60 L153.60,258.40 L194.70,258.40 L194.70,262.60" fill="none" stroke="#3c3c3c" stroke-width="0.9"/>
<text x="174.20" y="257.68" font-size="7.5" text-anchor="middle" font-weight="bold" >****</text>
<path d="M153.60,275.80 L153.60,271.40 L181.20,271.40 L181.20,275.80" fill="none" stroke="#3c3c3c" stroke-width="0.9"/>
<text x="167.70" y="270.77" font-size="7.5" text-anchor="middle" font-weight="bold" >**</text>
<path d="M153.60,289.80 L153.60,285.70 L167.40,285.70 L167.40,289.80" fill="none" stroke="#3c3c3c" stroke-width="0.9"/>
<text x="160.40" y="281.84" font-size="4.6" text-anchor="middle" fill="#3a3a3a" >ns</text>
<text x="286.80" y="238.20" font-size="9.9" text-anchor="middle" font-style="italic" textLength="21.50" lengthAdjust="spacingAndGlyphs" >Mrc1</text>
<text x="240.40" y="312.30" font-size="8.3" text-anchor="middle" textLength="95.50" lengthAdjust="spacingAndGlyphs" transform="rotate(-90 240.40 312.30)">Relative gene expression</text>
<line x1="256.60" y1="273.10" x2="256.60" y2="353.30" stroke="#111" stroke-width="1.0" />
<line x1="256.10" y1="352.80" x2="315.20" y2="352.80" stroke="#111" stroke-width="1.0" />
<line x1="253.60" y1="352.80" x2="256.60" y2="352.80" stroke="#111" stroke-width="1.0" />
<text x="251.80" y="355.75" font-size="8.2" text-anchor="end" textLength="3.83" lengthAdjust="spacingAndGlyphs" >0</text>
<line x1="253.60" y1="333.00" x2="256.60" y2="333.00" stroke="#111" stroke-width="1.0" />
<text x="251.80" y="335.95" font-size="8.2" text-anchor="end" textLength="3.83" lengthAdjust="spacingAndGlyphs" >1</text>
<line x1="253.60" y1="313.20" x2="256.60" y2="313.20" stroke="#111" stroke-width="1.0" />
<text x="251.80" y="316.15" font-size="8.2" text-anchor="end" textLength="3.83" lengthAdjust="spacingAndGlyphs" >2</text>
<line x1="253.60" y1="293.40" x2="256.60" y2="293.40" stroke="#111" stroke-width="1.0" />
<text x="251.80" y="296.35" font-size="8.2" text-anchor="end" textLength="3.83" lengthAdjust="spacingAndGlyphs" >3</text>
<line x1="253.60" y1="273.60" x2="256.60" y2="273.60" stroke="#111" stroke-width="1.0" />
<text x="251.80" y="276.55" font-size="8.2" text-anchor="end" textLength="3.83" lengthAdjust="spacingAndGlyphs" >4</text>
<rect x="261.80" y="332.21" width="8.00" height="20.59" fill="#c3c3c3" stroke="#1a1a1a" stroke-width="0.95"/>
<line x1="265.80" y1="328.45" x2="265.80" y2="332.21" stroke="#1a1a1a" stroke-width="1.0" />
<line x1="263.80" y1="328.45" x2="267.80" y2="328.45" stroke="#1a1a1a" stroke-width="1.0" />
<line x1="265.80" y1="352.80" x2="265.80" y2="356.00" stroke="#111" stroke-width="1.0" />
<text x="267.60" y="362.80" font-size="7.6" text-anchor="end" stroke="#000" stroke-width="0.12" transform="rotate(-45 267.60 362.80)">Ctrl</text>
<rect x="275.80" y="337.36" width="8.00" height="15.44" fill="#c7aa7f" stroke="#1a1a1a" stroke-width="0.95"/>
<line x1="279.80" y1="334.19" x2="279.80" y2="337.36" stroke="#1a1a1a" stroke-width="1.0" />
<line x1="277.80" y1="334.19" x2="281.80" y2="334.19" stroke="#1a1a1a" stroke-width="1.0" />
<line x1="279.80" y1="352.80" x2="279.80" y2="356.00" stroke="#111" stroke-width="1.0" />
<text x="281.60" y="362.80" font-size="7.6" text-anchor="end" stroke="#000" stroke-width="0.12" transform="rotate(-45 281.60 362.80)">GPNMB 0.8ug</text>
<rect x="290.00" y="316.96" width="8.00" height="35.84" fill="#ebe5dd" stroke="#1a1a1a" stroke-width="0.95"/>
<line x1="294.00" y1="313.40" x2="294.00" y2="316.96" stroke="#1a1a1a" stroke-width="1.0" />
<line x1="292.00" y1="313.40" x2="296.00" y2="313.40" stroke="#1a1a1a" stroke-width="1.0" />
<line x1="294.00" y1="352.80" x2="294.00" y2="356.00" stroke="#111" stroke-width="1.0" />
<text x="295.80" y="362.80" font-size="7.6" text-anchor="end" stroke="#000" stroke-width="0.12" transform="rotate(-45 295.80 362.80)">GPNMB 1.0ug</text>
<rect x="304.00" y="301.32" width="8.00" height="51.48" fill="#79b9d3" stroke="#1a1a1a" stroke-width="0.95"/>
<line x1="308.00" y1="296.37" x2="308.00" y2="301.32" stroke="#1a1a1a" stroke-width="1.0" />
<line x1="306.00" y1="296.37" x2="310.00" y2="296.37" stroke="#1a1a1a" stroke-width="1.0" />
<line x1="308.00" y1="352.80" x2="308.00" y2="356.00" stroke="#111" stroke-width="1.0" />
<text x="309.80" y="362.80" font-size="7.6" text-anchor="end" stroke="#000" stroke-width="0.12" transform="rotate(-45 309.80 362.80)">GPNMB 1.5ug</text>
<path d="M265.60,263.00 L265.60,258.70 L308.30,258.70 L308.30,263.00" fill="none" stroke="#3c3c3c" stroke-width="0.9"/>
<text x="287.30" y="257.88" font-size="7.5" text-anchor="middle" font-weight="bold" >****</text>
<path d="M265.60,276.40 L265.60,272.10 L294.40,272.10 L294.40,276.40" fill="none" stroke="#3c3c3c" stroke-width="0.9"/>
<text x="280.00" y="271.57" font-size="7.5" text-anchor="middle" font-weight="bold" >**</text>
<path d="M265.60,291.00 L265.60,286.70 L279.70,286.70 L279.70,291.00" fill="none" stroke="#3c3c3c" stroke-width="0.9"/>
<text x="273.00" y="283.24" font-size="4.6" text-anchor="middle" fill="#3a3a3a" >ns</text>
<text x="398.20" y="238.20" font-size="9.9" text-anchor="middle" font-style="italic" textLength="25.50" lengthAdjust="spacingAndGlyphs" >Mertk</text>
<text x="354.20" y="319.40" font-size="8.3" text-anchor="middle" textLength="86.40" lengthAdjust="spacingAndGlyphs" transform="rotate(-90 354.20 319.40)">Relative gene expression</text>
<line x1="369.10" y1="283.20" x2="369.10" y2="355.90" stroke="#111" stroke-width="1.0" />
<line x1="368.60" y1="355.40" x2="427.50" y2="355.40" stroke="#111" stroke-width="1.0" />
<line x1="366.10" y1="355.40" x2="369.10" y2="355.40" stroke="#111" stroke-width="1.0" />
<text x="364.30" y="358.35" font-size="8.2" text-anchor="end" textLength="3.83" lengthAdjust="spacingAndGlyphs" >0</text>
<line x1="366.10" y1="331.50" x2="369.10" y2="331.50" stroke="#111" stroke-width="1.0" />
<text x="364.30" y="334.45" font-size="8.2" text-anchor="end" textLength="3.83" lengthAdjust="spacingAndGlyphs" >2</text>
<line x1="366.10" y1="307.60" x2="369.10" y2="307.60" stroke="#111" stroke-width="1.0" />
<text x="364.30" y="310.55" font-size="8.2" text-anchor="end" textLength="3.83" lengthAdjust="spacingAndGlyphs" >4</text>
<line x1="366.10" y1="283.70" x2="369.10" y2="283.70" stroke="#111" stroke-width="1.0" />
<text x="364.30" y="286.65" font-size="8.2" text-anchor="end" textLength="3.83" lengthAdjust="spacingAndGlyphs" >6</text>
<rect x="374.67" y="343.33" width="7.45" height="12.07" fill="#c3c3c3" stroke="#1a1a1a" stroke-width="0.95"/>
<line x1="378.40" y1="341.42" x2="378.40" y2="343.33" stroke="#1a1a1a" stroke-width="1.0" />
<line x1="376.54" y1="341.42" x2="380.26" y2="341.42" stroke="#1a1a1a" stroke-width="1.0" />
<line x1="378.40" y1="355.40" x2="378.40" y2="358.60" stroke="#111" stroke-width="1.0" />
<text x="380.20" y="364.20" font-size="7.6" text-anchor="end" stroke="#000" stroke-width="0.12" transform="rotate(-45 380.20 364.20)">Ctrl</text>
<rect x="388.27" y="337.36" width="7.45" height="18.04" fill="#c7aa7f" stroke="#1a1a1a" stroke-width="0.95"/>
<line x1="392.00" y1="336.88" x2="392.00" y2="337.36" stroke="#1a1a1a" stroke-width="1.0" />
<line x1="390.14" y1="336.88" x2="393.86" y2="336.88" stroke="#1a1a1a" stroke-width="1.0" />
<line x1="392.00" y1="355.40" x2="392.00" y2="358.60" stroke="#111" stroke-width="1.0" />
<text x="393.80" y="364.20" font-size="7.6" text-anchor="end" stroke="#000" stroke-width="0.12" transform="rotate(-45 393.80 364.20)">GPNMB 0.8ug</text>
<rect x="401.77" y="312.26" width="7.45" height="43.14" fill="#ebe5dd" stroke="#1a1a1a" stroke-width="0.95"/>
<line x1="405.50" y1="308.20" x2="405.50" y2="312.26" stroke="#1a1a1a" stroke-width="1.0" />
<line x1="403.64" y1="308.20" x2="407.36" y2="308.20" stroke="#1a1a1a" stroke-width="1.0" />
<line x1="405.50" y1="355.40" x2="405.50" y2="358.60" stroke="#111" stroke-width="1.0" />
<text x="407.30" y="364.20" font-size="7.6" text-anchor="end" stroke="#000" stroke-width="0.12" transform="rotate(-45 407.30 364.20)">GPNMB 1.0ug</text>
<rect x="415.47" y="300.19" width="7.45" height="55.21" fill="#79b9d3" stroke="#1a1a1a" stroke-width="0.95"/>
<line x1="419.20" y1="291.47" x2="419.20" y2="300.19" stroke="#1a1a1a" stroke-width="1.0" />
<line x1="417.34" y1="291.47" x2="421.06" y2="291.47" stroke="#1a1a1a" stroke-width="1.0" />
<line x1="419.20" y1="355.40" x2="419.20" y2="358.60" stroke="#111" stroke-width="1.0" />
<text x="421.00" y="364.20" font-size="7.6" text-anchor="end" stroke="#000" stroke-width="0.12" transform="rotate(-45 421.00 364.20)">GPNMB 1.5ug</text>
<path d="M378.50,259.40 L378.50,255.30 L419.30,255.30 L419.30,259.40" fill="none" stroke="#3c3c3c" stroke-width="0.9"/>
<text x="398.60" y="254.78" font-size="7.5" text-anchor="middle" font-weight="bold" >****</text>
<path d="M378.50,271.50 L378.50,267.40 L405.60,267.40 L405.60,271.50" fill="none" stroke="#3c3c3c" stroke-width="0.9"/>
<text x="392.00" y="267.18" font-size="7.5" text-anchor="middle" font-weight="bold" >****</text>
<path d="M378.50,287.60 L378.50,283.50 L392.00,283.50 L392.00,287.60" fill="none" stroke="#3c3c3c" stroke-width="0.9"/>
<text x="385.20" y="279.70" font-size="7.4" text-anchor="middle" fill="#222" textLength="6.60" lengthAdjust="spacingAndGlyphs" >ns</text>
<text x="510.00" y="238.20" font-size="9.9" text-anchor="middle" font-style="italic" textLength="13.10" lengthAdjust="spacingAndGlyphs" >Axl</text>
<text x="464.40" y="312.30" font-size="8.3" text-anchor="middle" textLength="94.00" lengthAdjust="spacingAndGlyphs" transform="rotate(-90 464.40 312.30)">Relative gene expression</text>
<line x1="479.40" y1="272.80" x2="479.40" y2="351.80" stroke="#2a2a2a" stroke-width="1.0" />
<line x1="478.90" y1="351.30" x2="539.00" y2="351.30" stroke="#2a2a2a" stroke-width="1.0" />
<line x1="476.40" y1="351.30" x2="479.40" y2="351.30" stroke="#2a2a2a" stroke-width="1.0" />
<text x="474.60" y="354.25" font-size="8.2" text-anchor="end" textLength="3.83" lengthAdjust="spacingAndGlyphs" >0</text>
<line x1="476.40" y1="331.80" x2="479.40" y2="331.80" stroke="#2a2a2a" stroke-width="1.0" />
<text x="474.60" y="334.75" font-size="8.2" text-anchor="end" textLength="3.83" lengthAdjust="spacingAndGlyphs" >1</text>
<line x1="476.40" y1="312.30" x2="479.40" y2="312.30" stroke="#2a2a2a" stroke-width="1.0" />
<text x="474.60" y="315.25" font-size="8.2" text-anchor="end" textLength="3.83" lengthAdjust="spacingAndGlyphs" >2</text>
<line x1="476.40" y1="292.80" x2="479.40" y2="292.80" stroke="#2a2a2a" stroke-width="1.0" />
<text x="474.60" y="295.75" font-size="8.2" text-anchor="end" textLength="3.83" lengthAdjust="spacingAndGlyphs" >3</text>
<line x1="476.40" y1="273.30" x2="479.40" y2="273.30" stroke="#2a2a2a" stroke-width="1.0" />
<text x="474.60" y="276.25" font-size="8.2" text-anchor="end" textLength="3.83" lengthAdjust="spacingAndGlyphs" >4</text>
<rect x="484.98" y="328.49" width="8.25" height="22.81" fill="#c3c3c3" stroke="#1a1a1a" stroke-width="0.95"/>
<line x1="489.10" y1="326.14" x2="489.10" y2="328.49" stroke="#1a1a1a" stroke-width="1.0" />
<line x1="487.04" y1="326.14" x2="491.16" y2="326.14" stroke="#1a1a1a" stroke-width="1.0" />
<line x1="489.10" y1="351.30" x2="489.10" y2="354.50" stroke="#2a2a2a" stroke-width="1.0" />
<text x="490.90" y="360.40" font-size="7.6" text-anchor="end" stroke="#000" stroke-width="0.12" transform="rotate(-45 490.90 360.40)">Ctrl</text>
<rect x="498.88" y="326.54" width="8.25" height="24.76" fill="#c7aa7f" stroke="#1a1a1a" stroke-width="0.95"/>
<line x1="503.00" y1="322.44" x2="503.00" y2="326.54" stroke="#1a1a1a" stroke-width="1.0" />
<line x1="500.94" y1="322.44" x2="505.06" y2="322.44" stroke="#1a1a1a" stroke-width="1.0" />
<line x1="503.00" y1="351.30" x2="503.00" y2="354.50" stroke="#2a2a2a" stroke-width="1.0" />
<text x="504.80" y="360.40" font-size="7.6" text-anchor="end" stroke="#000" stroke-width="0.12" transform="rotate(-45 504.80 360.40)">GPNMB 0.8ug</text>
<rect x="512.77" y="307.23" width="8.25" height="44.07" fill="#ebe5dd" stroke="#1a1a1a" stroke-width="0.95"/>
<line x1="516.90" y1="300.60" x2="516.90" y2="307.23" stroke="#1a1a1a" stroke-width="1.0" />
<line x1="514.84" y1="300.60" x2="518.96" y2="300.60" stroke="#1a1a1a" stroke-width="1.0" />
<line x1="516.90" y1="351.30" x2="516.90" y2="354.50" stroke="#2a2a2a" stroke-width="1.0" />
<text x="518.70" y="360.40" font-size="7.6" text-anchor="end" stroke="#000" stroke-width="0.12" transform="rotate(-45 518.70 360.40)">GPNMB 1.0ug</text>
<rect x="526.88" y="300.60" width="8.25" height="50.70" fill="#79b9d3" stroke="#1a1a1a" stroke-width="0.95"/>
<line x1="531.00" y1="295.53" x2="531.00" y2="300.60" stroke="#1a1a1a" stroke-width="1.0" />
<line x1="528.94" y1="295.53" x2="533.06" y2="295.53" stroke="#1a1a1a" stroke-width="1.0" />
<line x1="531.00" y1="351.30" x2="531.00" y2="354.50" stroke="#2a2a2a" stroke-width="1.0" />
<text x="532.80" y="360.40" font-size="7.6" text-anchor="end" stroke="#000" stroke-width="0.12" transform="rotate(-45 532.80 360.40)">GPNMB 1.5ug</text>
<path d="M489.30,260.60 L489.30,256.20 L531.50,256.20 L531.50,260.60" fill="none" stroke="#3c3c3c" stroke-width="0.9"/>
<text x="510.40" y="255.47" font-size="7.5" text-anchor="middle" font-weight="bold" >***</text>
<path d="M489.30,274.00 L489.30,269.60 L517.40,269.60 L517.40,274.00" fill="none" stroke="#3c3c3c" stroke-width="0.9"/>
<text x="503.50" y="268.88" font-size="7.5" text-anchor="middle" font-weight="bold" >***</text>
<path d="M489.30,290.80 L489.30,286.40 L503.20,286.40 L503.20,290.80" fill="none" stroke="#3c3c3c" stroke-width="0.9"/>
<text x="496.20" y="282.60" font-size="7.4" text-anchor="middle" fill="#222" textLength="6.60" lengthAdjust="spacingAndGlyphs" >ns</text>
<text x="622.70" y="238.20" font-size="9.9" text-anchor="middle" font-style="italic" textLength="19.80" lengthAdjust="spacingAndGlyphs" >Igf1r</text>
<text x="577.50" y="318.50" font-size="8.3" text-anchor="middle" textLength="87.60" lengthAdjust="spacingAndGlyphs" transform="rotate(-90 577.50 318.50)">Relative gene expression</text>
<line x1="593.60" y1="282.00" x2="593.60" y2="354.80" stroke="#111" stroke-width="1.0" />
<line x1="593.10" y1="354.30" x2="654.90" y2="354.30" stroke="#111" stroke-width="1.0" />
<line x1="590.60" y1="354.30" x2="593.60" y2="354.30" stroke="#111" stroke-width="1.0" />
<text x="588.80" y="357.25" font-size="8.2" text-anchor="end" textLength="3.83" lengthAdjust="spacingAndGlyphs" >0</text>
<line x1="590.60" y1="336.35" x2="593.60" y2="336.35" stroke="#111" stroke-width="1.0" />
<text x="588.80" y="339.30" font-size="8.2" text-anchor="end" textLength="3.83" lengthAdjust="spacingAndGlyphs" >1</text>
<line x1="590.60" y1="318.40" x2="593.60" y2="318.40" stroke="#111" stroke-width="1.0" />
<text x="588.80" y="321.35" font-size="8.2" text-anchor="end" textLength="3.83" lengthAdjust="spacingAndGlyphs" >2</text>
<line x1="590.60" y1="300.45" x2="593.60" y2="300.45" stroke="#111" stroke-width="1.0" />
<text x="588.80" y="303.40" font-size="8.2" text-anchor="end" textLength="3.83" lengthAdjust="spacingAndGlyphs" >3</text>
<line x1="590.60" y1="282.50" x2="593.60" y2="282.50" stroke="#111" stroke-width="1.0" />
<text x="588.80" y="285.45" font-size="8.2" text-anchor="end" textLength="3.83" lengthAdjust="spacingAndGlyphs" >4</text>
<rect x="598.55" y="337.25" width="7.90" height="17.05" fill="#c3c3c3" stroke="#1a1a1a" stroke-width="0.95"/>
<line x1="602.50" y1="335.45" x2="602.50" y2="337.25" stroke="#1a1a1a" stroke-width="1.0" />
<line x1="600.52" y1="335.45" x2="604.48" y2="335.45" stroke="#1a1a1a" stroke-width="1.0" />
<line x1="602.50" y1="354.30" x2="602.50" y2="357.50" stroke="#111" stroke-width="1.0" />
<text x="604.30" y="363.40" font-size="7.6" text-anchor="end" stroke="#000" stroke-width="0.12" transform="rotate(-45 604.30 363.40)">Ctrl</text>
<rect x="612.55" y="335.27" width="7.90" height="19.03" fill="#c7aa7f" stroke="#1a1a1a" stroke-width="0.95"/>
<line x1="616.50" y1="330.43" x2="616.50" y2="335.27" stroke="#1a1a1a" stroke-width="1.0" />
<line x1="614.52" y1="330.43" x2="618.48" y2="330.43" stroke="#1a1a1a" stroke-width="1.0" />
<line x1="616.50" y1="354.30" x2="616.50" y2="357.50" stroke="#111" stroke-width="1.0" />
<text x="618.30" y="363.40" font-size="7.6" text-anchor="end" stroke="#000" stroke-width="0.12" transform="rotate(-45 618.30 363.40)">GPNMB 0.8ug</text>
<rect x="627.05" y="310.32" width="7.90" height="43.98" fill="#ebe5dd" stroke="#1a1a1a" stroke-width="0.95"/>
<line x1="631.00" y1="301.35" x2="631.00" y2="310.32" stroke="#1a1a1a" stroke-width="1.0" />
<line x1="629.02" y1="301.35" x2="632.98" y2="301.35" stroke="#1a1a1a" stroke-width="1.0" />
<line x1="631.00" y1="354.30" x2="631.00" y2="357.50" stroke="#111" stroke-width="1.0" />
<text x="632.80" y="363.40" font-size="7.6" text-anchor="end" stroke="#000" stroke-width="0.12" transform="rotate(-45 632.80 363.40)">GPNMB 1.0ug</text>
<rect x="640.85" y="298.30" width="7.90" height="56.00" fill="#79b9d3" stroke="#1a1a1a" stroke-width="0.95"/>
<line x1="644.80" y1="292.37" x2="644.80" y2="298.30" stroke="#1a1a1a" stroke-width="1.0" />
<line x1="642.82" y1="292.37" x2="646.77" y2="292.37" stroke="#1a1a1a" stroke-width="1.0" />
<line x1="644.80" y1="354.30" x2="644.80" y2="357.50" stroke="#111" stroke-width="1.0" />
<text x="646.60" y="363.40" font-size="7.6" text-anchor="end" stroke="#000" stroke-width="0.12" transform="rotate(-45 646.60 363.40)">GPNMB 1.5ug</text>
<path d="M602.60,259.40 L602.60,255.30 L645.40,255.30 L645.40,259.40" fill="none" stroke="#3c3c3c" stroke-width="0.9"/>
<text x="624.00" y="254.78" font-size="7.5" text-anchor="middle" font-weight="bold" >****</text>
<path d="M602.60,272.00 L602.60,267.90 L631.20,267.90 L631.20,272.00" fill="none" stroke="#3c3c3c" stroke-width="0.9"/>
<text x="616.90" y="267.18" font-size="7.5" text-anchor="middle" font-weight="bold" >***</text>
<path d="M602.60,287.60 L602.60,283.50 L616.50,283.50 L616.50,287.60" fill="none" stroke="#3c3c3c" stroke-width="0.9"/>
<text x="609.60" y="279.64" font-size="4.6" text-anchor="middle" fill="#3a3a3a" >ns</text>
<text x="61.30" y="433.80" font-size="9.9" text-anchor="middle" font-style="italic" textLength="13.20" lengthAdjust="spacingAndGlyphs" >Il-4</text>
<text x="16.90" y="512.80" font-size="8.3" text-anchor="middle" textLength="90.90" lengthAdjust="spacingAndGlyphs" transform="rotate(-90 16.90 512.80)">Relative gene expression</text>
<line x1="31.80" y1="475.90" x2="31.80" y2="551.90" stroke="#111" stroke-width="1.0" />
<line x1="31.30" y1="551.40" x2="90.80" y2="551.40" stroke="#111" stroke-width="1.0" />
<line x1="28.80" y1="551.40" x2="31.80" y2="551.40" stroke="#111" stroke-width="1.0" />
<text x="27.00" y="554.35" font-size="8.2" text-anchor="end" textLength="3.83" lengthAdjust="spacingAndGlyphs" >0</text>
<line x1="28.80" y1="526.40" x2="31.80" y2="526.40" stroke="#111" stroke-width="1.0" />
<text x="27.00" y="529.35" font-size="8.2" text-anchor="end" textLength="3.83" lengthAdjust="spacingAndGlyphs" >1</text>
<line x1="28.80" y1="501.40" x2="31.80" y2="501.40" stroke="#111" stroke-width="1.0" />
<text x="27.00" y="504.35" font-size="8.2" text-anchor="end" textLength="3.83" lengthAdjust="spacingAndGlyphs" >2</text>
<line x1="28.80" y1="476.40" x2="31.80" y2="476.40" stroke="#111" stroke-width="1.0" />
<text x="27.00" y="479.35" font-size="8.2" text-anchor="end" textLength="3.83" lengthAdjust="spacingAndGlyphs" >3</text>
<rect x="37.48" y="526.40" width="7.45" height="25.00" fill="#c3c3c3" stroke="#1a1a1a" stroke-width="0.95"/>
<line x1="41.20" y1="522.90" x2="41.20" y2="526.40" stroke="#1a1a1a" stroke-width="1.0" />
<line x1="39.34" y1="522.90" x2="43.06" y2="522.90" stroke="#1a1a1a" stroke-width="1.0" />
<line x1="41.20" y1="551.40" x2="41.20" y2="554.60" stroke="#111" stroke-width="1.0" />
<text x="43.00" y="560.50" font-size="7.6" text-anchor="end" stroke="#000" stroke-width="0.12" transform="rotate(-45 43.00 560.50)">Ctrl</text>
<rect x="51.02" y="531.40" width="7.45" height="20.00" fill="#c7aa7f" stroke="#1a1a1a" stroke-width="0.95"/>
<line x1="54.75" y1="526.40" x2="54.75" y2="531.40" stroke="#1a1a1a" stroke-width="1.0" />
<line x1="52.89" y1="526.40" x2="56.61" y2="526.40" stroke="#1a1a1a" stroke-width="1.0" />
<line x1="54.75" y1="551.40" x2="54.75" y2="554.60" stroke="#111" stroke-width="1.0" />
<text x="56.55" y="560.50" font-size="7.6" text-anchor="end" stroke="#000" stroke-width="0.12" transform="rotate(-45 56.55 560.50)">GPNMB 0.8ug</text>
<rect x="64.73" y="507.40" width="7.45" height="44.00" fill="#ebe5dd" stroke="#1a1a1a" stroke-width="0.95"/>
<line x1="68.45" y1="504.65" x2="68.45" y2="507.40" stroke="#1a1a1a" stroke-width="1.0" />
<line x1="66.59" y1="504.65" x2="70.31" y2="504.65" stroke="#1a1a1a" stroke-width="1.0" />
<line x1="68.45" y1="551.40" x2="68.45" y2="554.60" stroke="#111" stroke-width="1.0" />
<text x="70.25" y="560.50" font-size="7.6" text-anchor="end" stroke="#000" stroke-width="0.12" transform="rotate(-45 70.25 560.50)">GPNMB 1.0ug</text>
<rect x="77.88" y="493.40" width="7.45" height="58.00" fill="#79b9d3" stroke="#1a1a1a" stroke-width="0.95"/>
<line x1="81.60" y1="489.40" x2="81.60" y2="493.40" stroke="#1a1a1a" stroke-width="1.0" />
<line x1="79.74" y1="489.40" x2="83.46" y2="489.40" stroke="#1a1a1a" stroke-width="1.0" />
<line x1="81.60" y1="551.40" x2="81.60" y2="554.60" stroke="#111" stroke-width="1.0" />
<text x="83.40" y="560.50" font-size="7.6" text-anchor="end" stroke="#000" stroke-width="0.12" transform="rotate(-45 83.40 560.50)">GPNMB 1.5ug</text>
<path d="M41.20,458.30 L41.20,454.20 L81.80,454.20 L81.80,458.30" fill="none" stroke="#3c3c3c" stroke-width="0.9"/>
<text x="61.60" y="453.48" font-size="7.5" text-anchor="middle" font-weight="bold" >****</text>
<path d="M41.20,471.50 L41.20,467.40 L68.60,467.40 L68.60,471.50" fill="none" stroke="#3c3c3c" stroke-width="0.9"/>
<text x="54.70" y="466.38" font-size="7.5" text-anchor="middle" font-weight="bold" >***</text>
<path d="M41.20,485.30 L41.20,481.20 L54.50,481.20 L54.50,485.30" fill="none" stroke="#3c3c3c" stroke-width="0.9"/>
<text x="47.90" y="477.64" font-size="4.6" text-anchor="middle" fill="#3a3a3a" >ns</text>
<text x="178.60" y="434.10" font-size="9.9" text-anchor="middle" font-style="italic" textLength="13.20" lengthAdjust="spacingAndGlyphs" >Il-6</text>
<text x="127.30" y="510.10" font-size="8.3" text-anchor="middle" textLength="93.60" lengthAdjust="spacingAndGlyphs" transform="rotate(-90 127.30 510.10)">Relative gene expression</text>
<line x1="148.40" y1="472.40" x2="148.40" y2="550.40" stroke="#111" stroke-width="1.0" />
<line x1="147.90" y1="549.90" x2="207.50" y2="549.90" stroke="#111" stroke-width="1.0" />
<line x1="145.40" y1="549.90" x2="148.40" y2="549.90" stroke="#111" stroke-width="1.0" />
<text x="143.60" y="552.85" font-size="8.2" text-anchor="end" textLength="9.57" lengthAdjust="spacingAndGlyphs" >0.0</text>
<line x1="145.40" y1="530.65" x2="148.40" y2="530.65" stroke="#111" stroke-width="1.0" />
<text x="143.60" y="533.60" font-size="8.2" text-anchor="end" textLength="9.57" lengthAdjust="spacingAndGlyphs" >0.5</text>
<line x1="145.40" y1="511.40" x2="148.40" y2="511.40" stroke="#111" stroke-width="1.0" />
<text x="143.60" y="514.35" font-size="8.2" text-anchor="end" textLength="9.57" lengthAdjust="spacingAndGlyphs" >1.0</text>
<line x1="145.40" y1="492.15" x2="148.40" y2="492.15" stroke="#111" stroke-width="1.0" />
<text x="143.60" y="495.10" font-size="8.2" text-anchor="end" textLength="9.57" lengthAdjust="spacingAndGlyphs" >1.5</text>
<line x1="145.40" y1="472.90" x2="148.40" y2="472.90" stroke="#111" stroke-width="1.0" />
<text x="143.60" y="475.85" font-size="8.2" text-anchor="end" textLength="9.57" lengthAdjust="spacingAndGlyphs" >2.0</text>
<rect x="153.62" y="509.09" width="7.65" height="40.81" fill="#c3c3c3" stroke="#1a1a1a" stroke-width="0.95"/>
<line x1="157.45" y1="504.08" x2="157.45" y2="509.09" stroke="#1a1a1a" stroke-width="1.0" />
<line x1="155.54" y1="504.08" x2="159.36" y2="504.08" stroke="#1a1a1a" stroke-width="1.0" />
<line x1="157.45" y1="549.90" x2="157.45" y2="553.10" stroke="#111" stroke-width="1.0" />
<text x="159.25" y="559.60" font-size="7.6" text-anchor="end" stroke="#000" stroke-width="0.12" transform="rotate(-45 159.25 559.60)">Ctrl</text>
<rect x="167.33" y="513.32" width="7.65" height="36.58" fill="#c7aa7f" stroke="#1a1a1a" stroke-width="0.95"/>
<line x1="171.15" y1="508.32" x2="171.15" y2="513.32" stroke="#1a1a1a" stroke-width="1.0" />
<line x1="169.24" y1="508.32" x2="173.06" y2="508.32" stroke="#1a1a1a" stroke-width="1.0" />
<line x1="171.15" y1="549.90" x2="171.15" y2="553.10" stroke="#111" stroke-width="1.0" />
<text x="172.95" y="559.60" font-size="7.6" text-anchor="end" stroke="#000" stroke-width="0.12" transform="rotate(-45 172.95 559.60)">GPNMB 0.8ug</text>
<rect x="181.38" y="503.31" width="7.65" height="46.58" fill="#ebe5dd" stroke="#1a1a1a" stroke-width="0.95"/>
<line x1="185.20" y1="492.15" x2="185.20" y2="503.31" stroke="#1a1a1a" stroke-width="1.0" />
<line x1="183.29" y1="492.15" x2="187.11" y2="492.15" stroke="#1a1a1a" stroke-width="1.0" />
<line x1="185.20" y1="549.90" x2="185.20" y2="553.10" stroke="#111" stroke-width="1.0" />
<text x="187.00" y="559.60" font-size="7.6" text-anchor="end" stroke="#000" stroke-width="0.12" transform="rotate(-45 187.00 559.60)">GPNMB 1.0ug</text>
<rect x="195.08" y="506.39" width="7.65" height="43.50" fill="#79b9d3" stroke="#1a1a1a" stroke-width="0.95"/>
<line x1="198.90" y1="496.77" x2="198.90" y2="506.39" stroke="#1a1a1a" stroke-width="1.0" />
<line x1="196.99" y1="496.77" x2="200.81" y2="496.77" stroke="#1a1a1a" stroke-width="1.0" />
<line x1="198.90" y1="549.90" x2="198.90" y2="553.10" stroke="#111" stroke-width="1.0" />
<text x="200.70" y="559.60" font-size="7.6" text-anchor="end" stroke="#000" stroke-width="0.12" transform="rotate(-45 200.70 559.60)">GPNMB 1.5ug</text>
<path d="M157.40,459.60 L157.40,455.50 L199.00,455.50 L199.00,459.60" fill="none" stroke="#3c3c3c" stroke-width="0.9"/>
<text x="178.20" y="451.84" font-size="4.6" text-anchor="middle" fill="#3a3a3a" >ns</text>
<path d="M157.40,473.50 L157.40,469.40 L184.90,469.40 L184.90,473.50" fill="none" stroke="#3c3c3c" stroke-width="0.9"/>
<text x="171.30" y="465.94" font-size="4.6" text-anchor="middle" fill="#3a3a3a" >ns</text>
<path d="M157.40,487.50 L157.40,483.40 L171.30,483.40 L171.30,487.50" fill="none" stroke="#3c3c3c" stroke-width="0.9"/>
<text x="164.30" y="479.84" font-size="4.6" text-anchor="middle" fill="#3a3a3a" >ns</text>
<text x="290.50" y="434.10" font-size="9.9" text-anchor="middle" font-style="italic" textLength="21.10" lengthAdjust="spacingAndGlyphs" >Nos2</text>
<text x="243.90" y="511.70" font-size="8.3" text-anchor="middle" textLength="91.00" lengthAdjust="spacingAndGlyphs" transform="rotate(-90 243.90 511.70)">Relative gene expression</text>
<line x1="262.00" y1="475.85" x2="262.00" y2="552.00" stroke="#111" stroke-width="1.0" />
<line x1="261.50" y1="551.50" x2="320.50" y2="551.50" stroke="#111" stroke-width="1.0" />
<line x1="259.00" y1="551.50" x2="262.00" y2="551.50" stroke="#111" stroke-width="1.0" />
<text x="257.20" y="554.45" font-size="8.2" text-anchor="end" textLength="9.57" lengthAdjust="spacingAndGlyphs" >0.0</text>
<line x1="259.00" y1="526.45" x2="262.00" y2="526.45" stroke="#111" stroke-width="1.0" />
<text x="257.20" y="529.40" font-size="8.2" text-anchor="end" textLength="9.57" lengthAdjust="spacingAndGlyphs" >0.5</text>
<line x1="259.00" y1="501.40" x2="262.00" y2="501.40" stroke="#111" stroke-width="1.0" />
<text x="257.20" y="504.35" font-size="8.2" text-anchor="end" textLength="9.57" lengthAdjust="spacingAndGlyphs" >1.0</text>
<line x1="259.00" y1="476.35" x2="262.00" y2="476.35" stroke="#111" stroke-width="1.0" />
<text x="257.20" y="479.30" font-size="8.2" text-anchor="end" textLength="9.57" lengthAdjust="spacingAndGlyphs" >1.5</text>
<rect x="266.68" y="500.40" width="7.65" height="51.10" fill="#c3c3c3" stroke="#1a1a1a" stroke-width="0.95"/>
<line x1="270.50" y1="495.39" x2="270.50" y2="500.40" stroke="#1a1a1a" stroke-width="1.0" />
<line x1="268.59" y1="495.39" x2="272.41" y2="495.39" stroke="#1a1a1a" stroke-width="1.0" />
<line x1="270.50" y1="551.50" x2="270.50" y2="554.70" stroke="#111" stroke-width="1.0" />
<text x="273.20" y="560.60" font-size="7.6" text-anchor="end" stroke="#000" stroke-width="0.12" transform="rotate(-45 273.20 560.60)">Ctrl</text>
<rect x="280.53" y="506.41" width="7.65" height="45.09" fill="#c7aa7f" stroke="#1a1a1a" stroke-width="0.95"/>
<line x1="284.35" y1="504.41" x2="284.35" y2="506.41" stroke="#1a1a1a" stroke-width="1.0" />
<line x1="282.44" y1="504.41" x2="286.26" y2="504.41" stroke="#1a1a1a" stroke-width="1.0" />
<line x1="284.35" y1="551.50" x2="284.35" y2="554.70" stroke="#111" stroke-width="1.0" />
<text x="287.05" y="560.60" font-size="7.6" text-anchor="end" stroke="#000" stroke-width="0.12" transform="rotate(-45 287.05 560.60)">GPNMB 0.8ug</text>
<rect x="294.03" y="497.39" width="7.65" height="54.11" fill="#ebe5dd" stroke="#1a1a1a" stroke-width="0.95"/>
<line x1="297.85" y1="494.39" x2="297.85" y2="497.39" stroke="#1a1a1a" stroke-width="1.0" />
<line x1="295.94" y1="494.39" x2="299.76" y2="494.39" stroke="#1a1a1a" stroke-width="1.0" />
<line x1="297.85" y1="551.50" x2="297.85" y2="554.70" stroke="#111" stroke-width="1.0" />
<text x="300.55" y="560.60" font-size="7.6" text-anchor="end" stroke="#000" stroke-width="0.12" transform="rotate(-45 300.55 560.60)">GPNMB 1.0ug</text>
<rect x="307.82" y="501.40" width="7.65" height="50.10" fill="#79b9d3" stroke="#1a1a1a" stroke-width="0.95"/>
<line x1="311.65" y1="498.39" x2="311.65" y2="501.40" stroke="#1a1a1a" stroke-width="1.0" />
<line x1="309.74" y1="498.39" x2="313.56" y2="498.39" stroke="#1a1a1a" stroke-width="1.0" />
<line x1="311.65" y1="551.50" x2="311.65" y2="554.70" stroke="#111" stroke-width="1.0" />
<text x="314.35" y="560.60" font-size="7.6" text-anchor="end" stroke="#000" stroke-width="0.12" transform="rotate(-45 314.35 560.60)">GPNMB 1.5ug</text>
<path d="M270.50,459.30 L270.50,454.50 L311.40,454.50 L311.40,459.30" fill="none" stroke="#3c3c3c" stroke-width="0.9"/>
<text x="290.90" y="451.34" font-size="4.6" text-anchor="middle" fill="#3a3a3a" >ns</text>
<path d="M270.50,472.50 L270.50,468.40 L297.80,468.40 L297.80,472.50" fill="none" stroke="#3c3c3c" stroke-width="0.9"/>
<text x="283.90" y="465.24" font-size="4.6" text-anchor="middle" fill="#3a3a3a" >ns</text>
<path d="M270.50,489.60 L270.50,485.50 L284.30,485.50 L284.30,489.60" fill="none" stroke="#3c3c3c" stroke-width="0.9"/>
<text x="277.50" y="482.34" font-size="4.6" text-anchor="middle" fill="#3a3a3a" >ns</text>
<text x="396.80" y="434.10" font-size="9.9" text-anchor="middle" font-style="italic" textLength="21.60" lengthAdjust="spacingAndGlyphs" >Cd86</text>
<text x="355.40" y="516.40" font-size="8.3" text-anchor="middle" textLength="87.10" lengthAdjust="spacingAndGlyphs" transform="rotate(-90 355.40 516.40)">Relative gene expression</text>
<line x1="375.70" y1="479.50" x2="375.70" y2="553.10" stroke="#111" stroke-width="1.0" />
<line x1="375.20" y1="552.60" x2="432.00" y2="552.60" stroke="#111" stroke-width="1.0" />
<line x1="372.70" y1="552.60" x2="375.70" y2="552.60" stroke="#111" stroke-width="1.0" />
<text x="370.90" y="555.55" font-size="8.2" text-anchor="end" textLength="9.57" lengthAdjust="spacingAndGlyphs" >0.0</text>
<line x1="372.70" y1="528.40" x2="375.70" y2="528.40" stroke="#111" stroke-width="1.0" />
<text x="370.90" y="531.35" font-size="8.2" text-anchor="end" textLength="9.57" lengthAdjust="spacingAndGlyphs" >0.5</text>
<line x1="372.70" y1="504.20" x2="375.70" y2="504.20" stroke="#111" stroke-width="1.0" />
<text x="370.90" y="507.15" font-size="8.2" text-anchor="end" textLength="9.57" lengthAdjust="spacingAndGlyphs" >1.0</text>
<line x1="372.70" y1="480.00" x2="375.70" y2="480.00" stroke="#111" stroke-width="1.0" />
<text x="370.90" y="482.95" font-size="8.2" text-anchor="end" textLength="9.57" lengthAdjust="spacingAndGlyphs" >1.5</text>
<rect x="380.75" y="499.84" width="7.50" height="52.76" fill="#c3c3c3" stroke="#1a1a1a" stroke-width="0.95"/>
<line x1="384.50" y1="491.13" x2="384.50" y2="499.84" stroke="#1a1a1a" stroke-width="1.0" />
<line x1="382.62" y1="491.13" x2="386.38" y2="491.13" stroke="#1a1a1a" stroke-width="1.0" />
<line x1="384.50" y1="552.60" x2="384.50" y2="555.80" stroke="#111" stroke-width="1.0" />
<text x="386.30" y="561.70" font-size="7.6" text-anchor="end" stroke="#000" stroke-width="0.12" transform="rotate(-45 386.30 561.70)">Ctrl</text>
<rect x="393.80" y="506.14" width="7.50" height="46.46" fill="#c7aa7f" stroke="#1a1a1a" stroke-width="0.95"/>
<line x1="397.55" y1="501.30" x2="397.55" y2="506.14" stroke="#1a1a1a" stroke-width="1.0" />
<line x1="395.68" y1="501.30" x2="399.43" y2="501.30" stroke="#1a1a1a" stroke-width="1.0" />
<line x1="397.55" y1="552.60" x2="397.55" y2="555.80" stroke="#111" stroke-width="1.0" />
<text x="399.35" y="561.70" font-size="7.6" text-anchor="end" stroke="#000" stroke-width="0.12" transform="rotate(-45 399.35 561.70)">GPNMB 0.8ug</text>
<rect x="406.70" y="511.94" width="7.50" height="40.66" fill="#ebe5dd" stroke="#1a1a1a" stroke-width="0.95"/>
<line x1="410.45" y1="509.04" x2="410.45" y2="511.94" stroke="#1a1a1a" stroke-width="1.0" />
<line x1="408.57" y1="509.04" x2="412.32" y2="509.04" stroke="#1a1a1a" stroke-width="1.0" />
<line x1="410.45" y1="552.60" x2="410.45" y2="555.80" stroke="#111" stroke-width="1.0" />
<text x="412.25" y="561.70" font-size="7.6" text-anchor="end" stroke="#000" stroke-width="0.12" transform="rotate(-45 412.25 561.70)">GPNMB 1.0ug</text>
<rect x="419.80" y="512.43" width="7.50" height="40.17" fill="#79b9d3" stroke="#1a1a1a" stroke-width="0.95"/>
<line x1="423.55" y1="509.52" x2="423.55" y2="512.43" stroke="#1a1a1a" stroke-width="1.0" />
<line x1="421.68" y1="509.52" x2="425.43" y2="509.52" stroke="#1a1a1a" stroke-width="1.0" />
<line x1="423.55" y1="552.60" x2="423.55" y2="555.80" stroke="#111" stroke-width="1.0" />
<text x="425.35" y="561.70" font-size="7.6" text-anchor="end" stroke="#000" stroke-width="0.12" transform="rotate(-45 425.35 561.70)">GPNMB 1.5ug</text>
<path d="M384.20,459.30 L384.20,455.30 L423.70,455.30 L423.70,459.30" fill="none" stroke="#3c3c3c" stroke-width="0.9"/>
<text x="403.90" y="454.70" font-size="10.0" text-anchor="middle" font-weight="bold" >*</text>
<path d="M384.20,472.50 L384.20,468.40 L410.70,468.40 L410.70,472.50" fill="none" stroke="#3c3c3c" stroke-width="0.9"/>
<text x="397.40" y="468.80" font-size="10.0" text-anchor="middle" font-weight="bold" >*</text>
<path d="M384.20,487.00 L384.20,483.00 L397.50,483.00 L397.50,487.00" fill="none" stroke="#3c3c3c" stroke-width="0.9"/>
<text x="390.80" y="479.44" font-size="4.6" text-anchor="middle" fill="#3a3a3a" >ns</text>
<text x="61.75" y="656.90" font-size="8.6" text-anchor="middle" font-style="italic" textLength="13.10" lengthAdjust="spacingAndGlyphs" >Irf4</text>
<text x="5.70" y="766.30" font-size="7.5" text-anchor="middle" textLength="85.30" lengthAdjust="spacingAndGlyphs" transform="rotate(-90 5.70 766.30)">Relative gene expression</text>
<line x1="24.30" y1="717.05" x2="24.30" y2="812.70" stroke="#111" stroke-width="1.05" />
<line x1="23.80" y1="812.20" x2="98.30" y2="812.20" stroke="#111" stroke-width="1.05" />
<line x1="21.10" y1="812.20" x2="24.30" y2="812.20" stroke="#111" stroke-width="1.05" />
<text x="20.10" y="814.18" font-size="5.5" text-anchor="end" textLength="3.06" lengthAdjust="spacingAndGlyphs" >0</text>
<line x1="21.10" y1="780.65" x2="24.30" y2="780.65" stroke="#111" stroke-width="1.05" />
<text x="20.10" y="782.63" font-size="5.5" text-anchor="end" textLength="3.06" lengthAdjust="spacingAndGlyphs" >1</text>
<line x1="21.10" y1="749.10" x2="24.30" y2="749.10" stroke="#111" stroke-width="1.05" />
<text x="20.10" y="751.08" font-size="5.5" text-anchor="end" textLength="3.06" lengthAdjust="spacingAndGlyphs" >2</text>
<line x1="21.10" y1="717.55" x2="24.30" y2="717.55" stroke="#111" stroke-width="1.05" />
<text x="20.10" y="719.53" font-size="5.5" text-anchor="end" textLength="3.06" lengthAdjust="spacingAndGlyphs" >3</text>
<rect x="30.87" y="779.70" width="9.85" height="32.50" fill="#c3c3c3" stroke="#1a1a1a" stroke-width="1.15"/>
<line x1="35.80" y1="773.08" x2="35.80" y2="779.70" stroke="#1a1a1a" stroke-width="1.0" />
<line x1="33.34" y1="773.08" x2="38.26" y2="773.08" stroke="#1a1a1a" stroke-width="1.0" />
<line x1="35.80" y1="812.20" x2="35.80" y2="816.20" stroke="#111" stroke-width="1.05" />
<text x="37.50" y="822.00" font-size="6.7" text-anchor="end" stroke="#000" stroke-width="0.12" transform="rotate(-45 37.50 822.00)">Ctrl</text>
<rect x="47.83" y="777.81" width="9.85" height="34.39" fill="#c7aa7f" stroke="#1a1a1a" stroke-width="1.15"/>
<line x1="52.75" y1="770.24" x2="52.75" y2="777.81" stroke="#1a1a1a" stroke-width="1.0" />
<line x1="50.29" y1="770.24" x2="55.21" y2="770.24" stroke="#1a1a1a" stroke-width="1.0" />
<line x1="52.75" y1="812.20" x2="52.75" y2="816.20" stroke="#111" stroke-width="1.05" />
<text x="54.45" y="822.00" font-size="6.7" text-anchor="end" stroke="#000" stroke-width="0.12" transform="rotate(-45 54.45 822.00)">GPNMB 0.8ug</text>
<rect x="65.12" y="760.14" width="9.85" height="52.06" fill="#ebe5dd" stroke="#1a1a1a" stroke-width="1.15"/>
<line x1="70.05" y1="756.67" x2="70.05" y2="760.14" stroke="#1a1a1a" stroke-width="1.0" />
<line x1="67.59" y1="756.67" x2="72.51" y2="756.67" stroke="#1a1a1a" stroke-width="1.0" />
<line x1="70.05" y1="812.20" x2="70.05" y2="816.20" stroke="#111" stroke-width="1.05" />
<text x="71.75" y="822.00" font-size="6.7" text-anchor="end" stroke="#000" stroke-width="0.12" transform="rotate(-45 71.75 822.00)">GPNMB 1.0ug</text>
<rect x="82.23" y="729.54" width="9.85" height="82.66" fill="#79b9d3" stroke="#1a1a1a" stroke-width="1.15"/>
<line x1="87.15" y1="722.60" x2="87.15" y2="729.54" stroke="#1a1a1a" stroke-width="1.0" />
<line x1="84.69" y1="722.60" x2="89.61" y2="722.60" stroke="#1a1a1a" stroke-width="1.0" />
<line x1="87.15" y1="812.20" x2="87.15" y2="816.20" stroke="#111" stroke-width="1.05" />
<text x="88.85" y="822.00" font-size="6.7" text-anchor="end" stroke="#000" stroke-width="0.12" transform="rotate(-45 88.85 822.00)">GPNMB 1.5ug</text>
<path d="M35.90,683.20 L35.90,677.10 L87.60,677.10 L87.60,683.20" fill="none" stroke="#3c3c3c" stroke-width="0.9"/>
<text x="61.30" y="676.38" font-size="9.3" text-anchor="middle" font-weight="bold" >****</text>
<path d="M35.90,699.50 L35.90,694.30 L70.40,694.30 L70.40,699.50" fill="none" stroke="#3c3c3c" stroke-width="0.9"/>
<text x="52.60" y="693.18" font-size="9.3" text-anchor="middle" font-weight="bold" >*</text>
<path d="M35.90,716.40 L35.90,711.20 L52.90,711.20 L52.90,716.40" fill="none" stroke="#3c3c3c" stroke-width="0.9"/>
<text x="44.70" y="706.72" font-size="6.0" text-anchor="middle" fill="#222" >ns</text>
<text x="173.25" y="657.20" font-size="8.6" text-anchor="middle" font-style="italic" textLength="22.50" lengthAdjust="spacingAndGlyphs" >Pparg</text>
<text x="117.30" y="766.50" font-size="7.5" text-anchor="middle" textLength="85.90" lengthAdjust="spacingAndGlyphs" transform="rotate(-90 117.30 766.50)">Relative gene expression</text>
<line x1="136.00" y1="715.70" x2="136.00" y2="812.70" stroke="#111" stroke-width="1.05" />
<line x1="135.50" y1="812.20" x2="209.90" y2="812.20" stroke="#111" stroke-width="1.05" />
<line x1="132.80" y1="812.20" x2="136.00" y2="812.20" stroke="#111" stroke-width="1.05" />
<text x="131.80" y="814.18" font-size="5.5" text-anchor="end" textLength="3.06" lengthAdjust="spacingAndGlyphs" >0</text>
<line x1="132.80" y1="788.20" x2="136.00" y2="788.20" stroke="#111" stroke-width="1.05" />
<text x="131.80" y="790.18" font-size="5.5" text-anchor="end" textLength="3.06" lengthAdjust="spacingAndGlyphs" >1</text>
<line x1="132.80" y1="764.20" x2="136.00" y2="764.20" stroke="#111" stroke-width="1.05" />
<text x="131.80" y="766.18" font-size="5.5" text-anchor="end" textLength="3.06" lengthAdjust="spacingAndGlyphs" >2</text>
<line x1="132.80" y1="740.20" x2="136.00" y2="740.20" stroke="#111" stroke-width="1.05" />
<text x="131.80" y="742.18" font-size="5.5" text-anchor="end" textLength="3.06" lengthAdjust="spacingAndGlyphs" >3</text>
<line x1="132.80" y1="716.20" x2="136.00" y2="716.20" stroke="#111" stroke-width="1.05" />
<text x="131.80" y="718.18" font-size="5.5" text-anchor="end" textLength="3.06" lengthAdjust="spacingAndGlyphs" >4</text>
<rect x="142.68" y="787.00" width="9.15" height="25.20" fill="#c3c3c3" stroke="#1a1a1a" stroke-width="1.15"/>
<line x1="147.25" y1="784.36" x2="147.25" y2="787.00" stroke="#1a1a1a" stroke-width="1.0" />
<line x1="144.96" y1="784.36" x2="149.54" y2="784.36" stroke="#1a1a1a" stroke-width="1.0" />
<line x1="147.25" y1="812.20" x2="147.25" y2="816.20" stroke="#111" stroke-width="1.05" />
<text x="148.95" y="822.00" font-size="6.7" text-anchor="end" stroke="#000" stroke-width="0.12" transform="rotate(-45 148.95 822.00)">Ctrl</text>
<rect x="159.83" y="790.36" width="9.15" height="21.84" fill="#c7aa7f" stroke="#1a1a1a" stroke-width="1.15"/>
<line x1="164.40" y1="787.72" x2="164.40" y2="790.36" stroke="#1a1a1a" stroke-width="1.0" />
<line x1="162.11" y1="787.72" x2="166.69" y2="787.72" stroke="#1a1a1a" stroke-width="1.0" />
<line x1="164.40" y1="812.20" x2="164.40" y2="816.20" stroke="#111" stroke-width="1.05" />
<text x="166.10" y="822.00" font-size="6.7" text-anchor="end" stroke="#000" stroke-width="0.12" transform="rotate(-45 166.10 822.00)">GPNMB 0.8ug</text>
<rect x="176.88" y="769.00" width="9.15" height="43.20" fill="#ebe5dd" stroke="#1a1a1a" stroke-width="1.15"/>
<line x1="181.45" y1="765.16" x2="181.45" y2="769.00" stroke="#1a1a1a" stroke-width="1.0" />
<line x1="179.16" y1="765.16" x2="183.74" y2="765.16" stroke="#1a1a1a" stroke-width="1.0" />
<line x1="181.45" y1="812.20" x2="181.45" y2="816.20" stroke="#111" stroke-width="1.05" />
<text x="183.15" y="822.00" font-size="6.7" text-anchor="end" stroke="#000" stroke-width="0.12" transform="rotate(-45 183.15 822.00)">GPNMB 1.0ug</text>
<rect x="194.08" y="737.80" width="9.15" height="74.40" fill="#79b9d3" stroke="#1a1a1a" stroke-width="1.15"/>
<line x1="198.65" y1="735.40" x2="198.65" y2="737.80" stroke="#1a1a1a" stroke-width="1.0" />
<line x1="196.36" y1="735.40" x2="200.94" y2="735.40" stroke="#1a1a1a" stroke-width="1.0" />
<line x1="198.65" y1="812.20" x2="198.65" y2="816.20" stroke="#111" stroke-width="1.05" />
<text x="200.35" y="822.00" font-size="6.7" text-anchor="end" stroke="#000" stroke-width="0.12" transform="rotate(-45 200.35 822.00)">GPNMB 1.5ug</text>
<path d="M147.10,696.60 L147.10,690.80 L198.50,690.80 L198.50,696.60" fill="none" stroke="#3c3c3c" stroke-width="0.9"/>
<text x="173.10" y="690.28" font-size="9.3" text-anchor="middle" font-weight="bold" >****</text>
<path d="M147.10,712.90 L147.10,707.10 L181.50,707.10 L181.50,712.90" fill="none" stroke="#3c3c3c" stroke-width="0.9"/>
<text x="164.70" y="706.38" font-size="9.3" text-anchor="middle" font-weight="bold" >****</text>
<path d="M147.10,730.20 L147.10,724.60 L164.30,724.60 L164.30,730.20" fill="none" stroke="#3c3c3c" stroke-width="0.9"/>
<text x="155.90" y="720.62" font-size="6.0" text-anchor="middle" fill="#222" >ns</text>
<text x="293.50" y="657.20" font-size="8.6" text-anchor="middle" font-style="italic" textLength="20.20" lengthAdjust="spacingAndGlyphs" >Stat6</text>
<text x="233.50" y="764.80" font-size="7.5" text-anchor="middle" textLength="82.60" lengthAdjust="spacingAndGlyphs" transform="rotate(-90 233.50 764.80)">Relative gene expression</text>
<line x1="256.60" y1="716.50" x2="256.60" y2="813.50" stroke="#111" stroke-width="1.05" />
<line x1="256.10" y1="813.00" x2="330.70" y2="813.00" stroke="#111" stroke-width="1.05" />
<line x1="253.40" y1="813.00" x2="256.60" y2="813.00" stroke="#111" stroke-width="1.05" />
<text x="252.40" y="814.98" font-size="5.5" text-anchor="end" textLength="7.65" lengthAdjust="spacingAndGlyphs" >0.0</text>
<line x1="253.40" y1="781.00" x2="256.60" y2="781.00" stroke="#111" stroke-width="1.05" />
<text x="252.40" y="782.98" font-size="5.5" text-anchor="end" textLength="7.65" lengthAdjust="spacingAndGlyphs" >0.5</text>
<line x1="253.40" y1="749.00" x2="256.60" y2="749.00" stroke="#111" stroke-width="1.05" />
<text x="252.40" y="750.98" font-size="5.5" text-anchor="end" textLength="7.65" lengthAdjust="spacingAndGlyphs" >1.0</text>
<line x1="253.40" y1="717.00" x2="256.60" y2="717.00" stroke="#111" stroke-width="1.05" />
<text x="252.40" y="718.98" font-size="5.5" text-anchor="end" textLength="7.65" lengthAdjust="spacingAndGlyphs" >1.5</text>
<rect x="263.30" y="747.72" width="9.20" height="65.28" fill="#c3c3c3" stroke="#1a1a1a" stroke-width="1.15"/>
<line x1="267.90" y1="743.88" x2="267.90" y2="747.72" stroke="#1a1a1a" stroke-width="1.0" />
<line x1="265.60" y1="743.88" x2="270.20" y2="743.88" stroke="#1a1a1a" stroke-width="1.0" />
<line x1="267.90" y1="813.00" x2="267.90" y2="817.00" stroke="#111" stroke-width="1.05" />
<text x="269.60" y="822.20" font-size="6.7" text-anchor="end" stroke="#000" stroke-width="0.12" transform="rotate(-45 269.60 822.20)">Ctrl</text>
<rect x="280.85" y="745.80" width="9.20" height="67.20" fill="#c7aa7f" stroke="#1a1a1a" stroke-width="1.15"/>
<line x1="285.45" y1="739.40" x2="285.45" y2="745.80" stroke="#1a1a1a" stroke-width="1.0" />
<line x1="283.15" y1="739.40" x2="287.75" y2="739.40" stroke="#1a1a1a" stroke-width="1.0" />
<line x1="285.45" y1="813.00" x2="285.45" y2="817.00" stroke="#111" stroke-width="1.05" />
<text x="287.15" y="822.20" font-size="6.7" text-anchor="end" stroke="#000" stroke-width="0.12" transform="rotate(-45 287.15 822.20)">GPNMB 0.8ug</text>
<rect x="297.65" y="747.72" width="9.20" height="65.28" fill="#ebe5dd" stroke="#1a1a1a" stroke-width="1.15"/>
<line x1="302.25" y1="736.20" x2="302.25" y2="747.72" stroke="#1a1a1a" stroke-width="1.0" />
<line x1="299.95" y1="736.20" x2="304.55" y2="736.20" stroke="#1a1a1a" stroke-width="1.0" />
<line x1="302.25" y1="813.00" x2="302.25" y2="817.00" stroke="#111" stroke-width="1.05" />
<text x="303.95" y="822.20" font-size="6.7" text-anchor="end" stroke="#000" stroke-width="0.12" transform="rotate(-45 303.95 822.20)">GPNMB 1.0ug</text>
<rect x="314.90" y="736.20" width="9.20" height="76.80" fill="#79b9d3" stroke="#1a1a1a" stroke-width="1.15"/>
<line x1="319.50" y1="725.32" x2="319.50" y2="736.20" stroke="#1a1a1a" stroke-width="1.0" />
<line x1="317.20" y1="725.32" x2="321.80" y2="725.32" stroke="#1a1a1a" stroke-width="1.0" />
<line x1="319.50" y1="813.00" x2="319.50" y2="817.00" stroke="#111" stroke-width="1.05" />
<text x="321.20" y="822.20" font-size="6.7" text-anchor="end" stroke="#000" stroke-width="0.12" transform="rotate(-45 321.20 822.20)">GPNMB 1.5ug</text>
<path d="M267.70,684.70 L267.70,679.60 L319.70,679.60 L319.70,684.70" fill="none" stroke="#3c3c3c" stroke-width="0.9"/>
<text x="293.60" y="674.52" font-size="6.0" text-anchor="middle" fill="#222" >ns</text>
<path d="M267.70,701.70 L267.70,696.60 L302.40,696.60 L302.40,701.70" fill="none" stroke="#3c3c3c" stroke-width="0.9"/>
<text x="285.20" y="692.02" font-size="6.0" text-anchor="middle" fill="#222" >ns</text>
<path d="M267.70,719.30 L267.70,713.60 L285.50,713.60 L285.50,719.30" fill="none" stroke="#3c3c3c" stroke-width="0.9"/>
<text x="276.90" y="710.02" font-size="6.0" text-anchor="middle" fill="#222" >ns</text>
<text x="421.00" y="657.20" font-size="8.6" text-anchor="middle" font-style="italic" textLength="12.60" lengthAdjust="spacingAndGlyphs" >Irf5</text>
<text x="361.00" y="766.70" font-size="7.5" text-anchor="middle" textLength="86.10" lengthAdjust="spacingAndGlyphs" transform="rotate(-90 361.00 766.70)">Relative gene expression</text>
<line x1="383.20" y1="716.30" x2="383.20" y2="813.00" stroke="#111" stroke-width="1.05" />
<line x1="382.70" y1="812.50" x2="457.10" y2="812.50" stroke="#111" stroke-width="1.05" />
<line x1="380.00" y1="812.50" x2="383.20" y2="812.50" stroke="#111" stroke-width="1.05" />
<text x="379.00" y="814.48" font-size="5.5" text-anchor="end" textLength="7.65" lengthAdjust="spacingAndGlyphs" >0.0</text>
<line x1="380.00" y1="780.60" x2="383.20" y2="780.60" stroke="#111" stroke-width="1.05" />
<text x="379.00" y="782.58" font-size="5.5" text-anchor="end" textLength="7.65" lengthAdjust="spacingAndGlyphs" >0.5</text>
<line x1="380.00" y1="748.70" x2="383.20" y2="748.70" stroke="#111" stroke-width="1.05" />
<text x="379.00" y="750.68" font-size="5.5" text-anchor="end" textLength="7.65" lengthAdjust="spacingAndGlyphs" >1.0</text>
<line x1="380.00" y1="716.80" x2="383.20" y2="716.80" stroke="#111" stroke-width="1.05" />
<text x="379.00" y="718.78" font-size="5.5" text-anchor="end" textLength="7.65" lengthAdjust="spacingAndGlyphs" >1.5</text>
<rect x="389.82" y="752.53" width="9.65" height="59.97" fill="#c3c3c3" stroke="#1a1a1a" stroke-width="1.15"/>
<line x1="394.65" y1="743.60" x2="394.65" y2="752.53" stroke="#1a1a1a" stroke-width="1.0" />
<line x1="392.24" y1="743.60" x2="397.06" y2="743.60" stroke="#1a1a1a" stroke-width="1.0" />
<line x1="394.65" y1="812.50" x2="394.65" y2="816.50" stroke="#111" stroke-width="1.05" />
<text x="396.35" y="822.30" font-size="6.7" text-anchor="end" stroke="#000" stroke-width="0.12" transform="rotate(-45 396.35 822.30)">Ctrl</text>
<rect x="406.93" y="757.63" width="9.65" height="54.87" fill="#c7aa7f" stroke="#1a1a1a" stroke-width="1.15"/>
<line x1="411.75" y1="750.61" x2="411.75" y2="757.63" stroke="#1a1a1a" stroke-width="1.0" />
<line x1="409.34" y1="750.61" x2="414.16" y2="750.61" stroke="#1a1a1a" stroke-width="1.0" />
<line x1="411.75" y1="812.50" x2="411.75" y2="816.50" stroke="#111" stroke-width="1.05" />
<text x="413.45" y="822.30" font-size="6.7" text-anchor="end" stroke="#000" stroke-width="0.12" transform="rotate(-45 413.45 822.30)">GPNMB 0.8ug</text>
<rect x="424.07" y="743.60" width="9.65" height="68.90" fill="#ebe5dd" stroke="#1a1a1a" stroke-width="1.15"/>
<line x1="428.90" y1="735.94" x2="428.90" y2="743.60" stroke="#1a1a1a" stroke-width="1.0" />
<line x1="426.49" y1="735.94" x2="431.31" y2="735.94" stroke="#1a1a1a" stroke-width="1.0" />
<line x1="428.90" y1="812.50" x2="428.90" y2="816.50" stroke="#111" stroke-width="1.05" />
<text x="430.60" y="822.30" font-size="6.7" text-anchor="end" stroke="#000" stroke-width="0.12" transform="rotate(-45 430.60 822.30)">GPNMB 1.0ug</text>
<rect x="441.23" y="749.34" width="9.65" height="63.16" fill="#79b9d3" stroke="#1a1a1a" stroke-width="1.15"/>
<line x1="446.05" y1="739.13" x2="446.05" y2="749.34" stroke="#1a1a1a" stroke-width="1.0" />
<line x1="443.64" y1="739.13" x2="448.46" y2="739.13" stroke="#1a1a1a" stroke-width="1.0" />
<line x1="446.05" y1="812.50" x2="446.05" y2="816.50" stroke="#111" stroke-width="1.05" />
<text x="447.75" y="822.30" font-size="6.7" text-anchor="end" stroke="#000" stroke-width="0.12" transform="rotate(-45 447.75 822.30)">GPNMB 1.5ug</text>
<path d="M394.40,696.60 L394.40,691.30 L446.60,691.30 L446.60,696.60" fill="none" stroke="#3c3c3c" stroke-width="0.9"/>
<text x="420.70" y="686.82" font-size="6.0" text-anchor="middle" fill="#222" >ns</text>
<path d="M394.40,714.00 L394.40,708.80 L429.10,708.80 L429.10,714.00" fill="none" stroke="#3c3c3c" stroke-width="0.9"/>
<text x="412.10" y="704.02" font-size="6.0" text-anchor="middle" fill="#222" >ns</text>
<path d="M394.40,731.30 L394.40,725.80 L411.60,725.80 L411.60,731.30" fill="none" stroke="#3c3c3c" stroke-width="0.9"/>
<text x="403.30" y="721.52" font-size="6.0" text-anchor="middle" fill="#222" >ns</text>
<text x="536.85" y="657.20" font-size="8.6" text-anchor="middle" font-style="italic" textLength="23.30" lengthAdjust="spacingAndGlyphs" >NFkb1</text>
<text x="477.90" y="766.70" font-size="7.5" text-anchor="middle" textLength="86.10" lengthAdjust="spacingAndGlyphs" transform="rotate(-90 477.90 766.70)">Relative gene expression</text>
<line x1="501.20" y1="716.30" x2="501.20" y2="813.00" stroke="#111" stroke-width="1.05" />
<line x1="500.70" y1="812.50" x2="574.80" y2="812.50" stroke="#111" stroke-width="1.05" />
<line x1="498.00" y1="812.50" x2="501.20" y2="812.50" stroke="#111" stroke-width="1.05" />
<text x="497.00" y="814.48" font-size="5.5" text-anchor="end" textLength="7.65" lengthAdjust="spacingAndGlyphs" >0.0</text>
<line x1="498.00" y1="780.60" x2="501.20" y2="780.60" stroke="#111" stroke-width="1.05" />
<text x="497.00" y="782.58" font-size="5.5" text-anchor="end" textLength="7.65" lengthAdjust="spacingAndGlyphs" >0.5</text>
<line x1="498.00" y1="748.70" x2="501.20" y2="748.70" stroke="#111" stroke-width="1.05" />
<text x="497.00" y="750.68" font-size="5.5" text-anchor="end" textLength="7.65" lengthAdjust="spacingAndGlyphs" >1.0</text>
<line x1="498.00" y1="716.80" x2="501.20" y2="716.80" stroke="#111" stroke-width="1.05" />
<text x="497.00" y="718.78" font-size="5.5" text-anchor="end" textLength="7.65" lengthAdjust="spacingAndGlyphs" >1.5</text>
<rect x="507.20" y="748.70" width="9.50" height="63.80" fill="#c3c3c3" stroke="#1a1a1a" stroke-width="1.15"/>
<line x1="511.95" y1="742.32" x2="511.95" y2="748.70" stroke="#1a1a1a" stroke-width="1.0" />
<line x1="509.57" y1="742.32" x2="514.33" y2="742.32" stroke="#1a1a1a" stroke-width="1.0" />
<line x1="511.95" y1="812.50" x2="511.95" y2="816.50" stroke="#111" stroke-width="1.05" />
<text x="513.65" y="822.30" font-size="6.7" text-anchor="end" stroke="#000" stroke-width="0.12" transform="rotate(-45 513.65 822.30)">Ctrl</text>
<rect x="524.50" y="743.60" width="9.50" height="68.90" fill="#c7aa7f" stroke="#1a1a1a" stroke-width="1.15"/>
<line x1="529.25" y1="737.85" x2="529.25" y2="743.60" stroke="#1a1a1a" stroke-width="1.0" />
<line x1="526.88" y1="737.85" x2="531.62" y2="737.85" stroke="#1a1a1a" stroke-width="1.0" />
<line x1="529.25" y1="812.50" x2="529.25" y2="816.50" stroke="#111" stroke-width="1.05" />
<text x="530.95" y="822.30" font-size="6.7" text-anchor="end" stroke="#000" stroke-width="0.12" transform="rotate(-45 530.95 822.30)">GPNMB 0.8ug</text>
<rect x="541.50" y="747.42" width="9.50" height="65.08" fill="#ebe5dd" stroke="#1a1a1a" stroke-width="1.15"/>
<line x1="546.25" y1="736.58" x2="546.25" y2="747.42" stroke="#1a1a1a" stroke-width="1.0" />
<line x1="543.88" y1="736.58" x2="548.62" y2="736.58" stroke="#1a1a1a" stroke-width="1.0" />
<line x1="546.25" y1="812.50" x2="546.25" y2="816.50" stroke="#111" stroke-width="1.05" />
<text x="547.95" y="822.30" font-size="6.7" text-anchor="end" stroke="#000" stroke-width="0.12" transform="rotate(-45 547.95 822.30)">GPNMB 1.0ug</text>
<rect x="559.00" y="744.87" width="9.50" height="67.63" fill="#79b9d3" stroke="#1a1a1a" stroke-width="1.15"/>
<line x1="563.75" y1="734.66" x2="563.75" y2="744.87" stroke="#1a1a1a" stroke-width="1.0" />
<line x1="561.38" y1="734.66" x2="566.12" y2="734.66" stroke="#1a1a1a" stroke-width="1.0" />
<line x1="563.75" y1="812.50" x2="563.75" y2="816.50" stroke="#111" stroke-width="1.05" />
<text x="565.45" y="822.30" font-size="6.7" text-anchor="end" stroke="#000" stroke-width="0.12" transform="rotate(-45 565.45 822.30)">GPNMB 1.5ug</text>
<path d="M512.00,694.00 L512.00,688.70 L563.70,688.70 L563.70,694.00" fill="none" stroke="#3c3c3c" stroke-width="0.9"/>
<text x="538.00" y="684.22" font-size="6.0" text-anchor="middle" fill="#222" >ns</text>
<path d="M512.00,711.00 L512.00,705.70 L546.70,705.70 L546.70,711.00" fill="none" stroke="#3c3c3c" stroke-width="0.9"/>
<text x="529.60" y="701.72" font-size="6.0" text-anchor="middle" fill="#222" >ns</text>
<path d="M512.00,728.60 L512.00,723.40 L529.70,723.40 L529.70,728.60" fill="none" stroke="#3c3c3c" stroke-width="0.9"/>
<text x="520.40" y="719.22" font-size="6.0" text-anchor="middle" fill="#222" >ns</text>
<text x="647.35" y="657.20" font-size="8.6" text-anchor="middle" font-style="italic" textLength="19.30" lengthAdjust="spacingAndGlyphs" >Stat1</text>
<text x="587.90" y="766.40" font-size="7.5" text-anchor="middle" textLength="85.60" lengthAdjust="spacingAndGlyphs" transform="rotate(-90 587.90 766.40)">Relative gene expression</text>
<line x1="610.90" y1="715.80" x2="610.90" y2="812.50" stroke="#111" stroke-width="1.05" />
<line x1="610.40" y1="812.00" x2="684.50" y2="812.00" stroke="#111" stroke-width="1.05" />
<line x1="607.70" y1="812.00" x2="610.90" y2="812.00" stroke="#111" stroke-width="1.05" />
<text x="606.70" y="813.98" font-size="5.5" text-anchor="end" textLength="7.65" lengthAdjust="spacingAndGlyphs" >0.0</text>
<line x1="607.70" y1="780.10" x2="610.90" y2="780.10" stroke="#111" stroke-width="1.05" />
<text x="606.70" y="782.08" font-size="5.5" text-anchor="end" textLength="7.65" lengthAdjust="spacingAndGlyphs" >0.5</text>
<line x1="607.70" y1="748.20" x2="610.90" y2="748.20" stroke="#111" stroke-width="1.05" />
<text x="606.70" y="750.18" font-size="5.5" text-anchor="end" textLength="7.65" lengthAdjust="spacingAndGlyphs" >1.0</text>
<line x1="607.70" y1="716.30" x2="610.90" y2="716.30" stroke="#111" stroke-width="1.05" />
<text x="606.70" y="718.28" font-size="5.5" text-anchor="end" textLength="7.65" lengthAdjust="spacingAndGlyphs" >1.5</text>
<rect x="617.23" y="742.46" width="9.45" height="69.54" fill="#c3c3c3" stroke="#1a1a1a" stroke-width="1.15"/>
<line x1="621.95" y1="729.06" x2="621.95" y2="742.46" stroke="#1a1a1a" stroke-width="1.0" />
<line x1="619.59" y1="729.06" x2="624.31" y2="729.06" stroke="#1a1a1a" stroke-width="1.0" />
<line x1="621.95" y1="812.00" x2="621.95" y2="816.00" stroke="#111" stroke-width="1.05" />
<text x="623.65" y="821.80" font-size="6.7" text-anchor="end" stroke="#000" stroke-width="0.12" transform="rotate(-45 623.65 821.80)">Ctrl</text>
<rect x="634.32" y="746.92" width="9.45" height="65.08" fill="#c7aa7f" stroke="#1a1a1a" stroke-width="1.15"/>
<line x1="639.05" y1="734.80" x2="639.05" y2="746.92" stroke="#1a1a1a" stroke-width="1.0" />
<line x1="636.69" y1="734.80" x2="641.41" y2="734.80" stroke="#1a1a1a" stroke-width="1.0" />
<line x1="639.05" y1="812.00" x2="639.05" y2="816.00" stroke="#111" stroke-width="1.05" />
<text x="640.75" y="821.80" font-size="6.7" text-anchor="end" stroke="#000" stroke-width="0.12" transform="rotate(-45 640.75 821.80)">GPNMB 0.8ug</text>
<rect x="651.38" y="738.63" width="9.45" height="73.37" fill="#ebe5dd" stroke="#1a1a1a" stroke-width="1.15"/>
<line x1="656.10" y1="732.89" x2="656.10" y2="738.63" stroke="#1a1a1a" stroke-width="1.0" />
<line x1="653.74" y1="732.89" x2="658.46" y2="732.89" stroke="#1a1a1a" stroke-width="1.0" />
<line x1="656.10" y1="812.00" x2="656.10" y2="816.00" stroke="#111" stroke-width="1.05" />
<text x="657.80" y="821.80" font-size="6.7" text-anchor="end" stroke="#000" stroke-width="0.12" transform="rotate(-45 657.80 821.80)">GPNMB 1.0ug</text>
<rect x="668.42" y="732.25" width="9.45" height="79.75" fill="#79b9d3" stroke="#1a1a1a" stroke-width="1.15"/>
<line x1="673.15" y1="725.87" x2="673.15" y2="732.25" stroke="#1a1a1a" stroke-width="1.0" />
<line x1="670.79" y1="725.87" x2="675.51" y2="725.87" stroke="#1a1a1a" stroke-width="1.0" />
<line x1="673.15" y1="812.00" x2="673.15" y2="816.00" stroke="#111" stroke-width="1.05" />
<text x="674.85" y="821.80" font-size="6.7" text-anchor="end" stroke="#000" stroke-width="0.12" transform="rotate(-45 674.85 821.80)">GPNMB 1.5ug</text>
<path d="M621.40,686.40 L621.40,681.30 L673.60,681.30 L673.60,686.40" fill="none" stroke="#3c3c3c" stroke-width="0.9"/>
<text x="647.30" y="676.82" font-size="6.0" text-anchor="middle" fill="#222" >ns</text>
<path d="M621.40,703.50 L621.40,698.30 L656.50,698.30 L656.50,703.50" fill="none" stroke="#3c3c3c" stroke-width="0.9"/>
<text x="638.90" y="694.12" font-size="6.0" text-anchor="middle" fill="#222" >ns</text>
<path d="M621.40,721.40 L621.40,715.80 L638.90,715.80 L638.90,721.40" fill="none" stroke="#3c3c3c" stroke-width="0.9"/>
<text x="630.20" y="711.72" font-size="6.0" text-anchor="middle" fill="#222" >ns</text>
</svg>
</body></html>
